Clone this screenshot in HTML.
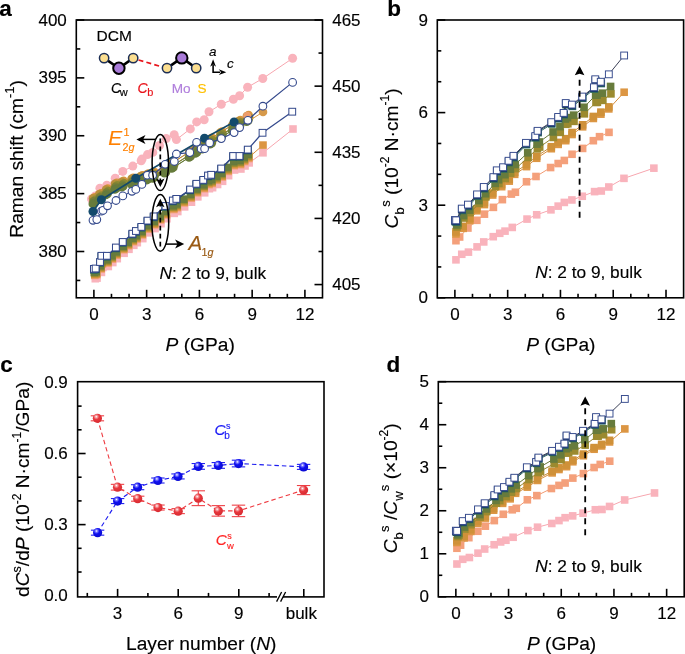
<!DOCTYPE html>
<html><head><meta charset="utf-8"><style>
html,body{margin:0;padding:0;background:#fff;}
svg{display:block;will-change:transform;font-family:"Liberation Sans", sans-serif;}
text{stroke-width:0.15px;}
</style></head><body>
<svg width="685" height="654" viewBox="0 0 685 654">
<text x="-0.80" y="16.20" font-size="22.5" text-anchor="start" font-weight="bold" stroke="#000">a</text>
<text x="387.20" y="16.30" font-size="22.5" text-anchor="start" font-weight="bold" stroke="#000">b</text>
<text x="0.20" y="371.60" font-size="22.5" text-anchor="start" font-weight="bold" stroke="#000">c</text>
<text x="386.60" y="371.70" font-size="22.5" text-anchor="start" font-weight="bold" stroke="#000">d</text>
<rect x="76.30" y="20.00" width="246.20" height="277.80" fill="none" stroke="#000" stroke-width="1.6"/>
<line x1="93.89" y1="297.80" x2="93.89" y2="289.80" stroke="#000" stroke-width="1.6" />
<text x="93.89" y="320.17" font-size="17" text-anchor="middle"  stroke="#000">0</text>
<line x1="111.47" y1="297.80" x2="111.47" y2="293.80" stroke="#000" stroke-width="1.6" />
<line x1="129.06" y1="297.80" x2="129.06" y2="293.80" stroke="#000" stroke-width="1.6" />
<line x1="146.64" y1="297.80" x2="146.64" y2="289.80" stroke="#000" stroke-width="1.6" />
<text x="146.64" y="320.17" font-size="17" text-anchor="middle"  stroke="#000">3</text>
<line x1="164.23" y1="297.80" x2="164.23" y2="293.80" stroke="#000" stroke-width="1.6" />
<line x1="181.81" y1="297.80" x2="181.81" y2="293.80" stroke="#000" stroke-width="1.6" />
<line x1="199.40" y1="297.80" x2="199.40" y2="289.80" stroke="#000" stroke-width="1.6" />
<text x="199.40" y="320.17" font-size="17" text-anchor="middle"  stroke="#000">6</text>
<line x1="216.99" y1="297.80" x2="216.99" y2="293.80" stroke="#000" stroke-width="1.6" />
<line x1="234.57" y1="297.80" x2="234.57" y2="293.80" stroke="#000" stroke-width="1.6" />
<line x1="252.16" y1="297.80" x2="252.16" y2="289.80" stroke="#000" stroke-width="1.6" />
<text x="252.16" y="320.17" font-size="17" text-anchor="middle"  stroke="#000">9</text>
<line x1="269.74" y1="297.80" x2="269.74" y2="293.80" stroke="#000" stroke-width="1.6" />
<line x1="287.33" y1="297.80" x2="287.33" y2="293.80" stroke="#000" stroke-width="1.6" />
<line x1="304.91" y1="297.80" x2="304.91" y2="289.80" stroke="#000" stroke-width="1.6" />
<text x="304.91" y="320.17" font-size="17" text-anchor="middle"  stroke="#000">12</text>
<line x1="76.30" y1="280.44" x2="80.30" y2="280.44" stroke="#000" stroke-width="1.6" />
<line x1="76.30" y1="251.50" x2="84.30" y2="251.50" stroke="#000" stroke-width="1.6" />
<text x="66.80" y="257.11" font-size="17" text-anchor="end"  stroke="#000">380</text>
<line x1="76.30" y1="222.56" x2="80.30" y2="222.56" stroke="#000" stroke-width="1.6" />
<line x1="76.30" y1="193.62" x2="84.30" y2="193.62" stroke="#000" stroke-width="1.6" />
<text x="66.80" y="199.24" font-size="17" text-anchor="end"  stroke="#000">385</text>
<line x1="76.30" y1="164.69" x2="80.30" y2="164.69" stroke="#000" stroke-width="1.6" />
<line x1="76.30" y1="135.75" x2="84.30" y2="135.75" stroke="#000" stroke-width="1.6" />
<text x="66.80" y="141.36" font-size="17" text-anchor="end"  stroke="#000">390</text>
<line x1="76.30" y1="106.81" x2="80.30" y2="106.81" stroke="#000" stroke-width="1.6" />
<line x1="76.30" y1="77.88" x2="84.30" y2="77.88" stroke="#000" stroke-width="1.6" />
<text x="66.80" y="83.48" font-size="17" text-anchor="end"  stroke="#000">395</text>
<line x1="76.30" y1="48.94" x2="80.30" y2="48.94" stroke="#000" stroke-width="1.6" />
<line x1="76.30" y1="20.00" x2="84.30" y2="20.00" stroke="#000" stroke-width="1.6" />
<text x="66.80" y="25.61" font-size="17" text-anchor="end"  stroke="#000">400</text>
<line x1="322.50" y1="284.57" x2="314.50" y2="284.57" stroke="#000" stroke-width="1.6" />
<text x="332.20" y="290.18" font-size="17" text-anchor="start"  stroke="#000">405</text>
<line x1="322.50" y1="251.50" x2="318.50" y2="251.50" stroke="#000" stroke-width="1.6" />
<line x1="322.50" y1="218.43" x2="314.50" y2="218.43" stroke="#000" stroke-width="1.6" />
<text x="332.20" y="224.04" font-size="17" text-anchor="start"  stroke="#000">420</text>
<line x1="322.50" y1="185.36" x2="318.50" y2="185.36" stroke="#000" stroke-width="1.6" />
<line x1="322.50" y1="152.29" x2="314.50" y2="152.29" stroke="#000" stroke-width="1.6" />
<text x="332.20" y="157.90" font-size="17" text-anchor="start"  stroke="#000">435</text>
<line x1="322.50" y1="119.21" x2="318.50" y2="119.21" stroke="#000" stroke-width="1.6" />
<line x1="322.50" y1="86.14" x2="314.50" y2="86.14" stroke="#000" stroke-width="1.6" />
<text x="332.20" y="91.75" font-size="17" text-anchor="start"  stroke="#000">450</text>
<line x1="322.50" y1="53.07" x2="318.50" y2="53.07" stroke="#000" stroke-width="1.6" />
<line x1="322.50" y1="20.00" x2="314.50" y2="20.00" stroke="#000" stroke-width="1.6" />
<text x="332.20" y="25.61" font-size="17" text-anchor="start"  stroke="#000">465</text>
<text transform="translate(22.7,158.9) rotate(-90)" font-size="19.2" text-anchor="middle" stroke="#000">Raman shift (cm<tspan font-size="13" dy="-8.5">-1</tspan><tspan dy="8.5">)</tspan></text>
<text x="200.2" y="350.7" font-size="19.2" text-anchor="middle" stroke="#000"><tspan font-style="italic">P</tspan> (GPa)</text>
<rect x="437.30" y="20.00" width="246.30" height="277.80" fill="none" stroke="#000" stroke-width="1.6"/>
<line x1="454.89" y1="297.80" x2="454.89" y2="289.80" stroke="#000" stroke-width="1.6" />
<text x="454.89" y="320.17" font-size="17" text-anchor="middle"  stroke="#000">0</text>
<line x1="472.49" y1="297.80" x2="472.49" y2="293.80" stroke="#000" stroke-width="1.6" />
<line x1="490.08" y1="297.80" x2="490.08" y2="293.80" stroke="#000" stroke-width="1.6" />
<line x1="507.67" y1="297.80" x2="507.67" y2="289.80" stroke="#000" stroke-width="1.6" />
<text x="507.67" y="320.17" font-size="17" text-anchor="middle"  stroke="#000">3</text>
<line x1="525.26" y1="297.80" x2="525.26" y2="293.80" stroke="#000" stroke-width="1.6" />
<line x1="542.86" y1="297.80" x2="542.86" y2="293.80" stroke="#000" stroke-width="1.6" />
<line x1="560.45" y1="297.80" x2="560.45" y2="289.80" stroke="#000" stroke-width="1.6" />
<text x="560.45" y="320.17" font-size="17" text-anchor="middle"  stroke="#000">6</text>
<line x1="578.04" y1="297.80" x2="578.04" y2="293.80" stroke="#000" stroke-width="1.6" />
<line x1="595.64" y1="297.80" x2="595.64" y2="293.80" stroke="#000" stroke-width="1.6" />
<line x1="613.23" y1="297.80" x2="613.23" y2="289.80" stroke="#000" stroke-width="1.6" />
<text x="613.23" y="320.17" font-size="17" text-anchor="middle"  stroke="#000">9</text>
<line x1="630.82" y1="297.80" x2="630.82" y2="293.80" stroke="#000" stroke-width="1.6" />
<line x1="648.41" y1="297.80" x2="648.41" y2="293.80" stroke="#000" stroke-width="1.6" />
<line x1="666.01" y1="297.80" x2="666.01" y2="289.80" stroke="#000" stroke-width="1.6" />
<text x="666.01" y="320.17" font-size="17" text-anchor="middle"  stroke="#000">12</text>
<line x1="437.30" y1="297.80" x2="445.30" y2="297.80" stroke="#000" stroke-width="1.6" />
<text x="428.00" y="303.41" font-size="17" text-anchor="end"  stroke="#000">0</text>
<line x1="437.30" y1="266.93" x2="441.30" y2="266.93" stroke="#000" stroke-width="1.6" />
<line x1="437.30" y1="236.07" x2="441.30" y2="236.07" stroke="#000" stroke-width="1.6" />
<line x1="437.30" y1="205.20" x2="445.30" y2="205.20" stroke="#000" stroke-width="1.6" />
<text x="428.00" y="210.81" font-size="17" text-anchor="end"  stroke="#000">3</text>
<line x1="437.30" y1="174.33" x2="441.30" y2="174.33" stroke="#000" stroke-width="1.6" />
<line x1="437.30" y1="143.47" x2="441.30" y2="143.47" stroke="#000" stroke-width="1.6" />
<line x1="437.30" y1="112.60" x2="445.30" y2="112.60" stroke="#000" stroke-width="1.6" />
<text x="428.00" y="118.21" font-size="17" text-anchor="end"  stroke="#000">6</text>
<line x1="437.30" y1="81.73" x2="441.30" y2="81.73" stroke="#000" stroke-width="1.6" />
<line x1="437.30" y1="50.87" x2="441.30" y2="50.87" stroke="#000" stroke-width="1.6" />
<line x1="437.30" y1="20.00" x2="445.30" y2="20.00" stroke="#000" stroke-width="1.6" />
<text x="428.00" y="25.61" font-size="17" text-anchor="end"  stroke="#000">9</text>
<text transform="translate(397.8,158.4) rotate(-90)" font-size="19.2" text-anchor="middle" stroke="#000"><tspan font-style="italic">C</tspan><tspan font-size="13" dy="6">b</tspan><tspan font-size="13" dy="-14" dx="0.5">s</tspan><tspan dy="8"> (10</tspan><tspan font-size="12" dy="-8.5">-2</tspan><tspan dy="8.5"> N·cm</tspan><tspan font-size="12" dy="-8.5">-1</tspan><tspan dy="8.5">)</tspan></text>
<text x="560.8" y="350.7" font-size="19.2" text-anchor="middle" stroke="#000"><tspan font-style="italic">P</tspan> (GPa)</text>
<rect x="77.60" y="381.70" width="246.40" height="215.20" fill="none" stroke="#000" stroke-width="1.6"/>
<text x="67.80" y="601.32" font-size="17" text-anchor="end"  stroke="#000">0.0</text>
<line x1="77.60" y1="572.01" x2="81.60" y2="572.01" stroke="#000" stroke-width="1.6" />
<line x1="77.60" y1="548.31" x2="81.60" y2="548.31" stroke="#000" stroke-width="1.6" />
<line x1="77.60" y1="524.61" x2="85.60" y2="524.61" stroke="#000" stroke-width="1.6" />
<text x="67.80" y="530.22" font-size="17" text-anchor="end"  stroke="#000">0.3</text>
<line x1="77.60" y1="500.91" x2="81.60" y2="500.91" stroke="#000" stroke-width="1.6" />
<line x1="77.60" y1="477.21" x2="81.60" y2="477.21" stroke="#000" stroke-width="1.6" />
<line x1="77.60" y1="453.51" x2="85.60" y2="453.51" stroke="#000" stroke-width="1.6" />
<text x="67.80" y="459.12" font-size="17" text-anchor="end"  stroke="#000">0.6</text>
<line x1="77.60" y1="429.81" x2="81.60" y2="429.81" stroke="#000" stroke-width="1.6" />
<line x1="77.60" y1="406.11" x2="81.60" y2="406.11" stroke="#000" stroke-width="1.6" />
<text x="67.80" y="388.02" font-size="17" text-anchor="end"  stroke="#000">0.9</text>
<line x1="87.30" y1="596.90" x2="87.30" y2="592.90" stroke="#000" stroke-width="1.6" />
<line x1="117.60" y1="596.90" x2="117.60" y2="588.90" stroke="#000" stroke-width="1.6" />
<text x="117.60" y="619.27" font-size="17" text-anchor="middle"  stroke="#000">3</text>
<line x1="147.90" y1="596.90" x2="147.90" y2="592.90" stroke="#000" stroke-width="1.6" />
<line x1="178.20" y1="596.90" x2="178.20" y2="588.90" stroke="#000" stroke-width="1.6" />
<text x="178.20" y="619.27" font-size="17" text-anchor="middle"  stroke="#000">6</text>
<line x1="208.50" y1="596.90" x2="208.50" y2="592.90" stroke="#000" stroke-width="1.6" />
<line x1="238.80" y1="596.90" x2="238.80" y2="588.90" stroke="#000" stroke-width="1.6" />
<text x="238.80" y="619.27" font-size="17" text-anchor="middle"  stroke="#000">9</text>
<line x1="269.10" y1="596.90" x2="269.10" y2="592.90" stroke="#000" stroke-width="1.6" />
<line x1="303.80" y1="596.90" x2="303.80" y2="588.90" stroke="#000" stroke-width="1.6" />
<text x="301.30" y="619.27" font-size="17" text-anchor="middle"  stroke="#000">bulk</text>
<rect x="277" y="593.9" width="6" height="6" fill="#fff"/>
<line x1="276.60" y1="601.60" x2="281.60" y2="592.00" stroke="#000" stroke-width="1.3" />
<line x1="280.60" y1="601.60" x2="285.60" y2="592.00" stroke="#000" stroke-width="1.3" />
<text transform="translate(29,489.3) rotate(-90)" font-size="19.2" text-anchor="middle" stroke="#000">d<tspan font-style="italic">C</tspan><tspan font-size="12.5" dy="-8">s</tspan><tspan dy="8">/d</tspan><tspan font-style="italic">P</tspan> (10<tspan font-size="12" dy="-8.5">-2</tspan><tspan dy="8.5"> N·cm</tspan><tspan font-size="12" dy="-8.5">-1</tspan><tspan dy="8.5">/GPa)</tspan></text>
<text x="201.2" y="650.2" font-size="19.2" text-anchor="middle" stroke="#000">Layer number (<tspan font-style="italic">N</tspan>)</text>
<rect x="438.30" y="381.70" width="245.90" height="215.10" fill="none" stroke="#000" stroke-width="1.6"/>
<line x1="455.86" y1="596.80" x2="455.86" y2="588.80" stroke="#000" stroke-width="1.6" />
<text x="455.86" y="619.17" font-size="17" text-anchor="middle"  stroke="#000">0</text>
<line x1="473.43" y1="596.80" x2="473.43" y2="592.80" stroke="#000" stroke-width="1.6" />
<line x1="490.99" y1="596.80" x2="490.99" y2="592.80" stroke="#000" stroke-width="1.6" />
<line x1="508.56" y1="596.80" x2="508.56" y2="588.80" stroke="#000" stroke-width="1.6" />
<text x="508.56" y="619.17" font-size="17" text-anchor="middle"  stroke="#000">3</text>
<line x1="526.12" y1="596.80" x2="526.12" y2="592.80" stroke="#000" stroke-width="1.6" />
<line x1="543.69" y1="596.80" x2="543.69" y2="592.80" stroke="#000" stroke-width="1.6" />
<line x1="561.25" y1="596.80" x2="561.25" y2="588.80" stroke="#000" stroke-width="1.6" />
<text x="561.25" y="619.17" font-size="17" text-anchor="middle"  stroke="#000">6</text>
<line x1="578.81" y1="596.80" x2="578.81" y2="592.80" stroke="#000" stroke-width="1.6" />
<line x1="596.38" y1="596.80" x2="596.38" y2="592.80" stroke="#000" stroke-width="1.6" />
<line x1="613.94" y1="596.80" x2="613.94" y2="588.80" stroke="#000" stroke-width="1.6" />
<text x="613.94" y="619.17" font-size="17" text-anchor="middle"  stroke="#000">9</text>
<line x1="631.51" y1="596.80" x2="631.51" y2="592.80" stroke="#000" stroke-width="1.6" />
<line x1="649.07" y1="596.80" x2="649.07" y2="592.80" stroke="#000" stroke-width="1.6" />
<line x1="666.64" y1="596.80" x2="666.64" y2="588.80" stroke="#000" stroke-width="1.6" />
<text x="666.64" y="619.17" font-size="17" text-anchor="middle"  stroke="#000">12</text>
<line x1="438.30" y1="596.80" x2="446.30" y2="596.80" stroke="#000" stroke-width="1.6" />
<text x="429.00" y="602.41" font-size="17" text-anchor="end"  stroke="#000">0</text>
<line x1="438.30" y1="575.29" x2="442.30" y2="575.29" stroke="#000" stroke-width="1.6" />
<line x1="438.30" y1="553.78" x2="446.30" y2="553.78" stroke="#000" stroke-width="1.6" />
<text x="429.00" y="559.39" font-size="17" text-anchor="end"  stroke="#000">1</text>
<line x1="438.30" y1="532.27" x2="442.30" y2="532.27" stroke="#000" stroke-width="1.6" />
<line x1="438.30" y1="510.76" x2="446.30" y2="510.76" stroke="#000" stroke-width="1.6" />
<text x="429.00" y="516.37" font-size="17" text-anchor="end"  stroke="#000">2</text>
<line x1="438.30" y1="489.25" x2="442.30" y2="489.25" stroke="#000" stroke-width="1.6" />
<line x1="438.30" y1="467.74" x2="446.30" y2="467.74" stroke="#000" stroke-width="1.6" />
<text x="429.00" y="473.35" font-size="17" text-anchor="end"  stroke="#000">3</text>
<line x1="438.30" y1="446.23" x2="442.30" y2="446.23" stroke="#000" stroke-width="1.6" />
<line x1="438.30" y1="424.72" x2="446.30" y2="424.72" stroke="#000" stroke-width="1.6" />
<text x="429.00" y="430.33" font-size="17" text-anchor="end"  stroke="#000">4</text>
<line x1="438.30" y1="403.21" x2="442.30" y2="403.21" stroke="#000" stroke-width="1.6" />
<line x1="438.30" y1="381.70" x2="446.30" y2="381.70" stroke="#000" stroke-width="1.6" />
<text x="429.00" y="387.31" font-size="17" text-anchor="end"  stroke="#000">5</text>
<text transform="translate(396.8,488.3) rotate(-90)" font-size="19.2" text-anchor="middle" stroke="#000"><tspan font-style="italic">C</tspan><tspan font-size="13" dy="6">b</tspan><tspan font-size="13" dy="-14" dx="0.3">s</tspan><tspan dy="8"> /</tspan><tspan font-style="italic">C</tspan><tspan font-size="13" dy="6">w</tspan><tspan font-size="13" dy="-14" dx="0.3">s</tspan><tspan dy="8"> (×10</tspan><tspan font-size="12" dy="-8.5">-2</tspan><tspan dy="8.5">)</tspan></text>
<text x="561.6" y="649.5" font-size="19.2" text-anchor="middle" stroke="#000"><tspan font-style="italic">P</tspan> (GPa)</text>
<text x="159.5" y="278.6" font-size="17.3" stroke="#000"><tspan font-style="italic">N</tspan>: 2 to 9, bulk</text>
<text x="535.2" y="277.8" font-size="17.3" stroke="#000"><tspan font-style="italic">N</tspan>: 2 to 9, bulk</text>
<text x="535.2" y="571.7" font-size="17.3" stroke="#000"><tspan font-style="italic">N</tspan>: 2 to 9, bulk</text>
<polyline points="455.95,259.83 461.75,254.28 468.44,252.12 477.06,246.87 483.75,241.93 493.25,236.68 499.75,233.29 505.03,231.13 512.25,227.42 527.02,219.09 536.70,214.77 550.95,209.83 558.16,206.13 564.32,202.42 571.89,199.95 582.27,196.25 594.58,191.62 601.27,191.00 608.83,186.99 623.96,178.35 653.87,168.16" fill="none" stroke="#F7A6AF" stroke-width="1.0"/>
<rect x="452.15" y="256.03" width="7.60" height="7.60" fill="#F9B3BC"/>
<rect x="457.95" y="250.48" width="7.60" height="7.60" fill="#F9B3BC"/>
<rect x="464.64" y="248.32" width="7.60" height="7.60" fill="#F9B3BC"/>
<rect x="473.26" y="243.07" width="7.60" height="7.60" fill="#F9B3BC"/>
<rect x="479.95" y="238.13" width="7.60" height="7.60" fill="#F9B3BC"/>
<rect x="489.45" y="232.88" width="7.60" height="7.60" fill="#F9B3BC"/>
<rect x="495.95" y="229.49" width="7.60" height="7.60" fill="#F9B3BC"/>
<rect x="501.23" y="227.33" width="7.60" height="7.60" fill="#F9B3BC"/>
<rect x="508.45" y="223.62" width="7.60" height="7.60" fill="#F9B3BC"/>
<rect x="523.22" y="215.29" width="7.60" height="7.60" fill="#F9B3BC"/>
<rect x="532.90" y="210.97" width="7.60" height="7.60" fill="#F9B3BC"/>
<rect x="547.15" y="206.03" width="7.60" height="7.60" fill="#F9B3BC"/>
<rect x="554.36" y="202.33" width="7.60" height="7.60" fill="#F9B3BC"/>
<rect x="560.52" y="198.62" width="7.60" height="7.60" fill="#F9B3BC"/>
<rect x="568.09" y="196.15" width="7.60" height="7.60" fill="#F9B3BC"/>
<rect x="578.47" y="192.45" width="7.60" height="7.60" fill="#F9B3BC"/>
<rect x="590.78" y="187.82" width="7.60" height="7.60" fill="#F9B3BC"/>
<rect x="597.47" y="187.20" width="7.60" height="7.60" fill="#F9B3BC"/>
<rect x="605.03" y="183.19" width="7.60" height="7.60" fill="#F9B3BC"/>
<rect x="620.16" y="174.55" width="7.60" height="7.60" fill="#F9B3BC"/>
<rect x="650.07" y="164.36" width="7.60" height="7.60" fill="#F9B3BC"/>
<polyline points="455.95,240.70 459.64,236.99 467.91,228.04 476.88,220.32 484.45,214.15 493.42,207.36 502.39,199.64 511.37,194.09 515.41,192.24 526.50,181.74 536.00,176.49 550.60,167.54 558.16,163.53 564.32,160.44 572.06,154.27 582.62,148.41 593.35,140.69 599.51,136.68 609.01,132.35" fill="none" stroke="#F29A72" stroke-width="1.0"/>
<rect x="452.15" y="236.90" width="7.60" height="7.60" fill="#F4A07B"/>
<rect x="455.84" y="233.19" width="7.60" height="7.60" fill="#F4A07B"/>
<rect x="464.11" y="224.24" width="7.60" height="7.60" fill="#F4A07B"/>
<rect x="473.08" y="216.52" width="7.60" height="7.60" fill="#F4A07B"/>
<rect x="480.65" y="210.35" width="7.60" height="7.60" fill="#F4A07B"/>
<rect x="489.62" y="203.56" width="7.60" height="7.60" fill="#F4A07B"/>
<rect x="498.59" y="195.84" width="7.60" height="7.60" fill="#F4A07B"/>
<rect x="507.57" y="190.29" width="7.60" height="7.60" fill="#F4A07B"/>
<rect x="511.61" y="188.44" width="7.60" height="7.60" fill="#F4A07B"/>
<rect x="522.70" y="177.94" width="7.60" height="7.60" fill="#F4A07B"/>
<rect x="532.20" y="172.69" width="7.60" height="7.60" fill="#F4A07B"/>
<rect x="546.80" y="163.74" width="7.60" height="7.60" fill="#F4A07B"/>
<rect x="554.36" y="159.73" width="7.60" height="7.60" fill="#F4A07B"/>
<rect x="560.52" y="156.64" width="7.60" height="7.60" fill="#F4A07B"/>
<rect x="568.26" y="150.47" width="7.60" height="7.60" fill="#F4A07B"/>
<rect x="578.82" y="144.61" width="7.60" height="7.60" fill="#F4A07B"/>
<rect x="589.55" y="136.89" width="7.60" height="7.60" fill="#F4A07B"/>
<rect x="595.71" y="132.88" width="7.60" height="7.60" fill="#F4A07B"/>
<rect x="605.21" y="128.55" width="7.60" height="7.60" fill="#F4A07B"/>
<polyline points="455.95,233.91 463.16,228.35 469.85,220.63 476.88,210.76 484.45,204.58 492.72,195.01 501.69,186.68 509.25,181.12 514.71,174.33 526.50,166.62 536.70,158.28 551.30,148.71 558.16,144.39 565.73,140.69 572.06,134.52 582.62,126.80 593.35,118.46 600.91,114.14 608.83,108.90 624.14,92.23" fill="none" stroke="#D58D3C" stroke-width="1.0"/>
<rect x="452.15" y="230.11" width="7.60" height="7.60" fill="#DC9643"/>
<rect x="459.36" y="224.55" width="7.60" height="7.60" fill="#DC9643"/>
<rect x="466.05" y="216.83" width="7.60" height="7.60" fill="#DC9643"/>
<rect x="473.08" y="206.96" width="7.60" height="7.60" fill="#DC9643"/>
<rect x="480.65" y="200.78" width="7.60" height="7.60" fill="#DC9643"/>
<rect x="488.92" y="191.21" width="7.60" height="7.60" fill="#DC9643"/>
<rect x="497.89" y="182.88" width="7.60" height="7.60" fill="#DC9643"/>
<rect x="505.45" y="177.32" width="7.60" height="7.60" fill="#DC9643"/>
<rect x="510.91" y="170.53" width="7.60" height="7.60" fill="#DC9643"/>
<rect x="522.70" y="162.82" width="7.60" height="7.60" fill="#DC9643"/>
<rect x="532.90" y="154.48" width="7.60" height="7.60" fill="#DC9643"/>
<rect x="547.50" y="144.91" width="7.60" height="7.60" fill="#DC9643"/>
<rect x="554.36" y="140.59" width="7.60" height="7.60" fill="#DC9643"/>
<rect x="561.93" y="136.89" width="7.60" height="7.60" fill="#DC9643"/>
<rect x="568.26" y="130.72" width="7.60" height="7.60" fill="#DC9643"/>
<rect x="578.82" y="123.00" width="7.60" height="7.60" fill="#DC9643"/>
<rect x="589.55" y="114.66" width="7.60" height="7.60" fill="#DC9643"/>
<rect x="597.11" y="110.34" width="7.60" height="7.60" fill="#DC9643"/>
<rect x="605.03" y="105.10" width="7.60" height="7.60" fill="#DC9643"/>
<rect x="620.34" y="88.43" width="7.60" height="7.60" fill="#DC9643"/>
<polyline points="455.95,231.90 463.16,226.35 469.85,218.63 476.88,208.75 484.45,202.58 492.72,193.01 501.69,184.68 509.25,179.12 514.71,172.33 526.50,164.61 536.70,156.28 551.30,146.71 558.16,142.39 565.73,138.69 572.06,132.51 582.62,124.80 593.35,116.46 600.91,112.14 608.83,106.89" fill="none" stroke="#C88A34" stroke-width="1.0"/>
<rect x="452.15" y="228.10" width="7.60" height="7.60" fill="#CF9139"/>
<rect x="459.36" y="222.55" width="7.60" height="7.60" fill="#CF9139"/>
<rect x="466.05" y="214.83" width="7.60" height="7.60" fill="#CF9139"/>
<rect x="473.08" y="204.95" width="7.60" height="7.60" fill="#CF9139"/>
<rect x="480.65" y="198.78" width="7.60" height="7.60" fill="#CF9139"/>
<rect x="488.92" y="189.21" width="7.60" height="7.60" fill="#CF9139"/>
<rect x="497.89" y="180.88" width="7.60" height="7.60" fill="#CF9139"/>
<rect x="505.45" y="175.32" width="7.60" height="7.60" fill="#CF9139"/>
<rect x="510.91" y="168.53" width="7.60" height="7.60" fill="#CF9139"/>
<rect x="522.70" y="160.81" width="7.60" height="7.60" fill="#CF9139"/>
<rect x="532.90" y="152.48" width="7.60" height="7.60" fill="#CF9139"/>
<rect x="547.50" y="142.91" width="7.60" height="7.60" fill="#CF9139"/>
<rect x="554.36" y="138.59" width="7.60" height="7.60" fill="#CF9139"/>
<rect x="561.93" y="134.89" width="7.60" height="7.60" fill="#CF9139"/>
<rect x="568.26" y="128.71" width="7.60" height="7.60" fill="#CF9139"/>
<rect x="578.82" y="121.00" width="7.60" height="7.60" fill="#CF9139"/>
<rect x="589.55" y="112.66" width="7.60" height="7.60" fill="#CF9139"/>
<rect x="597.11" y="108.34" width="7.60" height="7.60" fill="#CF9139"/>
<rect x="605.03" y="103.09" width="7.60" height="7.60" fill="#CF9139"/>
<polyline points="457.00,226.87 458.24,225.01 463.87,218.01 470.02,212.67 479.17,203.43 485.86,196.84 495.53,186.62 498.88,183.42 505.21,178.45 510.66,173.14 515.59,168.61 528.08,157.44 537.40,148.77 539.69,147.03 553.41,137.44 560.27,132.37 565.73,124.27 567.84,123.79 574.00,121.35 584.38,113.82 595.99,102.41 597.39,102.29 602.85,100.37 610.94,93.86" fill="none" stroke="#93842F" stroke-width="1.0"/>
<rect x="453.20" y="223.07" width="7.60" height="7.60" fill="#9B8A2F"/>
<rect x="454.44" y="221.21" width="7.60" height="7.60" fill="#9B8A2F"/>
<rect x="460.07" y="214.21" width="7.60" height="7.60" fill="#9B8A2F"/>
<rect x="466.22" y="208.87" width="7.60" height="7.60" fill="#9B8A2F"/>
<rect x="475.37" y="199.63" width="7.60" height="7.60" fill="#9B8A2F"/>
<rect x="482.06" y="193.04" width="7.60" height="7.60" fill="#9B8A2F"/>
<rect x="491.73" y="182.82" width="7.60" height="7.60" fill="#9B8A2F"/>
<rect x="495.07" y="179.62" width="7.60" height="7.60" fill="#9B8A2F"/>
<rect x="501.41" y="174.65" width="7.60" height="7.60" fill="#9B8A2F"/>
<rect x="506.86" y="169.34" width="7.60" height="7.60" fill="#9B8A2F"/>
<rect x="511.79" y="164.81" width="7.60" height="7.60" fill="#9B8A2F"/>
<rect x="524.28" y="153.64" width="7.60" height="7.60" fill="#9B8A2F"/>
<rect x="533.60" y="144.97" width="7.60" height="7.60" fill="#9B8A2F"/>
<rect x="535.89" y="143.23" width="7.60" height="7.60" fill="#9B8A2F"/>
<rect x="549.61" y="133.64" width="7.60" height="7.60" fill="#9B8A2F"/>
<rect x="556.47" y="128.57" width="7.60" height="7.60" fill="#9B8A2F"/>
<rect x="561.93" y="120.47" width="7.60" height="7.60" fill="#9B8A2F"/>
<rect x="564.04" y="119.99" width="7.60" height="7.60" fill="#9B8A2F"/>
<rect x="570.20" y="117.55" width="7.60" height="7.60" fill="#9B8A2F"/>
<rect x="580.58" y="110.02" width="7.60" height="7.60" fill="#9B8A2F"/>
<rect x="592.19" y="98.61" width="7.60" height="7.60" fill="#9B8A2F"/>
<rect x="593.60" y="98.49" width="7.60" height="7.60" fill="#9B8A2F"/>
<rect x="599.05" y="96.57" width="7.60" height="7.60" fill="#9B8A2F"/>
<rect x="607.14" y="90.06" width="7.60" height="7.60" fill="#9B8A2F"/>
<polyline points="456.65,224.93 457.88,223.02 463.51,215.58 469.67,210.11 478.82,200.55 485.50,193.72 495.18,183.34 498.52,179.75 504.86,174.69 510.31,169.15 515.24,164.46 527.73,152.81 537.05,144.09 539.34,141.98 553.06,131.94 559.92,126.63 565.38,119.03 567.49,117.61 573.64,115.14 584.02,107.26 595.64,95.23 597.04,95.05 602.50,93.19 610.59,86.46" fill="none" stroke="#637538" stroke-width="1.0"/>
<rect x="452.85" y="221.13" width="7.60" height="7.60" fill="#677B3C"/>
<rect x="454.08" y="219.22" width="7.60" height="7.60" fill="#677B3C"/>
<rect x="459.71" y="211.78" width="7.60" height="7.60" fill="#677B3C"/>
<rect x="465.87" y="206.31" width="7.60" height="7.60" fill="#677B3C"/>
<rect x="475.02" y="196.75" width="7.60" height="7.60" fill="#677B3C"/>
<rect x="481.70" y="189.92" width="7.60" height="7.60" fill="#677B3C"/>
<rect x="491.38" y="179.54" width="7.60" height="7.60" fill="#677B3C"/>
<rect x="494.72" y="175.95" width="7.60" height="7.60" fill="#677B3C"/>
<rect x="501.06" y="170.89" width="7.60" height="7.60" fill="#677B3C"/>
<rect x="506.51" y="165.35" width="7.60" height="7.60" fill="#677B3C"/>
<rect x="511.44" y="160.66" width="7.60" height="7.60" fill="#677B3C"/>
<rect x="523.93" y="149.01" width="7.60" height="7.60" fill="#677B3C"/>
<rect x="533.25" y="140.29" width="7.60" height="7.60" fill="#677B3C"/>
<rect x="535.54" y="138.18" width="7.60" height="7.60" fill="#677B3C"/>
<rect x="549.26" y="128.14" width="7.60" height="7.60" fill="#677B3C"/>
<rect x="556.12" y="122.83" width="7.60" height="7.60" fill="#677B3C"/>
<rect x="561.58" y="115.23" width="7.60" height="7.60" fill="#677B3C"/>
<rect x="563.69" y="113.81" width="7.60" height="7.60" fill="#677B3C"/>
<rect x="569.84" y="111.34" width="7.60" height="7.60" fill="#677B3C"/>
<rect x="580.22" y="103.46" width="7.60" height="7.60" fill="#677B3C"/>
<rect x="591.84" y="91.43" width="7.60" height="7.60" fill="#677B3C"/>
<rect x="593.24" y="91.25" width="7.60" height="7.60" fill="#677B3C"/>
<rect x="598.70" y="89.39" width="7.60" height="7.60" fill="#677B3C"/>
<rect x="606.79" y="82.66" width="7.60" height="7.60" fill="#677B3C"/>
<polyline points="455.42,221.82 456.65,222.13 462.28,210.40 468.44,206.38 477.59,196.20 484.27,188.79 493.95,178.91 497.29,172.12 503.63,169.04 509.08,162.55 514.00,157.61 526.50,144.65 535.82,137.86 538.11,132.61 551.83,123.97 558.69,118.72 564.14,114.71 566.26,104.83 572.41,106.38 582.79,98.35 594.40,89.09 595.81,81.07 601.27,83.53" fill="none" stroke="#2A6259" stroke-width="1.0"/>
<rect x="451.62" y="218.02" width="7.60" height="7.60" fill="#2D6A5E"/>
<rect x="452.85" y="218.33" width="7.60" height="7.60" fill="#2D6A5E"/>
<rect x="458.48" y="206.60" width="7.60" height="7.60" fill="#2D6A5E"/>
<rect x="464.64" y="202.58" width="7.60" height="7.60" fill="#2D6A5E"/>
<rect x="473.79" y="192.40" width="7.60" height="7.60" fill="#2D6A5E"/>
<rect x="480.47" y="184.99" width="7.60" height="7.60" fill="#2D6A5E"/>
<rect x="490.15" y="175.11" width="7.60" height="7.60" fill="#2D6A5E"/>
<rect x="493.49" y="168.32" width="7.60" height="7.60" fill="#2D6A5E"/>
<rect x="499.83" y="165.24" width="7.60" height="7.60" fill="#2D6A5E"/>
<rect x="505.28" y="158.75" width="7.60" height="7.60" fill="#2D6A5E"/>
<rect x="510.20" y="153.81" width="7.60" height="7.60" fill="#2D6A5E"/>
<rect x="522.70" y="140.85" width="7.60" height="7.60" fill="#2D6A5E"/>
<rect x="532.02" y="134.06" width="7.60" height="7.60" fill="#2D6A5E"/>
<rect x="534.31" y="128.81" width="7.60" height="7.60" fill="#2D6A5E"/>
<rect x="548.03" y="120.17" width="7.60" height="7.60" fill="#2D6A5E"/>
<rect x="554.89" y="114.92" width="7.60" height="7.60" fill="#2D6A5E"/>
<rect x="560.34" y="110.91" width="7.60" height="7.60" fill="#2D6A5E"/>
<rect x="562.46" y="101.03" width="7.60" height="7.60" fill="#2D6A5E"/>
<rect x="568.61" y="102.58" width="7.60" height="7.60" fill="#2D6A5E"/>
<rect x="578.99" y="94.55" width="7.60" height="7.60" fill="#2D6A5E"/>
<rect x="590.60" y="85.29" width="7.60" height="7.60" fill="#2D6A5E"/>
<rect x="592.01" y="77.27" width="7.60" height="7.60" fill="#2D6A5E"/>
<rect x="597.47" y="79.73" width="7.60" height="7.60" fill="#2D6A5E"/>
<polyline points="454.89,220.92 456.12,221.23 461.75,209.50 467.91,205.48 477.06,195.30 483.75,187.89 493.42,178.01 496.76,171.22 503.10,168.13 508.55,161.65 513.48,156.71 525.97,143.75 535.29,136.96 537.58,131.71 551.30,123.07 558.16,117.82 563.62,113.81 565.73,103.93 571.89,105.48 582.27,97.45 593.88,88.19 595.28,80.16 600.74,82.63" fill="none" stroke="#173A66" stroke-width="1.0"/>
<rect x="451.09" y="217.12" width="7.60" height="7.60" fill="#173A66"/>
<rect x="452.32" y="217.43" width="7.60" height="7.60" fill="#173A66"/>
<rect x="457.95" y="205.70" width="7.60" height="7.60" fill="#173A66"/>
<rect x="464.11" y="201.68" width="7.60" height="7.60" fill="#173A66"/>
<rect x="473.26" y="191.50" width="7.60" height="7.60" fill="#173A66"/>
<rect x="479.95" y="184.09" width="7.60" height="7.60" fill="#173A66"/>
<rect x="489.62" y="174.21" width="7.60" height="7.60" fill="#173A66"/>
<rect x="492.96" y="167.42" width="7.60" height="7.60" fill="#173A66"/>
<rect x="499.30" y="164.33" width="7.60" height="7.60" fill="#173A66"/>
<rect x="504.75" y="157.85" width="7.60" height="7.60" fill="#173A66"/>
<rect x="509.68" y="152.91" width="7.60" height="7.60" fill="#173A66"/>
<rect x="522.17" y="139.95" width="7.60" height="7.60" fill="#173A66"/>
<rect x="531.49" y="133.16" width="7.60" height="7.60" fill="#173A66"/>
<rect x="533.78" y="127.91" width="7.60" height="7.60" fill="#173A66"/>
<rect x="547.50" y="119.27" width="7.60" height="7.60" fill="#173A66"/>
<rect x="554.36" y="114.02" width="7.60" height="7.60" fill="#173A66"/>
<rect x="559.82" y="110.01" width="7.60" height="7.60" fill="#173A66"/>
<rect x="561.93" y="100.13" width="7.60" height="7.60" fill="#173A66"/>
<rect x="568.09" y="101.68" width="7.60" height="7.60" fill="#173A66"/>
<rect x="578.47" y="93.65" width="7.60" height="7.60" fill="#173A66"/>
<rect x="590.08" y="84.39" width="7.60" height="7.60" fill="#173A66"/>
<rect x="591.48" y="76.36" width="7.60" height="7.60" fill="#173A66"/>
<rect x="596.94" y="78.83" width="7.60" height="7.60" fill="#173A66"/>
<polyline points="454.89,220.02 456.12,220.32 461.75,208.60 467.91,204.58 477.06,194.40 483.75,186.99 493.42,177.11 496.76,170.32 503.10,167.23 508.55,160.75 513.48,155.81 525.97,142.85 535.29,136.06 537.58,130.81 551.30,122.17 558.16,116.92 563.62,112.91 565.73,103.03 571.89,104.57 582.27,96.55 593.88,87.29 595.28,79.26 600.74,81.73 608.83,74.33 624.14,55.50" fill="none" stroke="#3A3F55" stroke-width="1.0"/>
<rect x="451.47" y="216.59" width="6.85" height="6.85" fill="#fff" stroke="#34498C" stroke-width="0.95"/>
<rect x="452.70" y="216.90" width="6.85" height="6.85" fill="#fff" stroke="#34498C" stroke-width="0.95"/>
<rect x="458.33" y="205.17" width="6.85" height="6.85" fill="#fff" stroke="#34498C" stroke-width="0.95"/>
<rect x="464.49" y="201.16" width="6.85" height="6.85" fill="#fff" stroke="#34498C" stroke-width="0.95"/>
<rect x="473.63" y="190.97" width="6.85" height="6.85" fill="#fff" stroke="#34498C" stroke-width="0.95"/>
<rect x="480.32" y="183.56" width="6.85" height="6.85" fill="#fff" stroke="#34498C" stroke-width="0.95"/>
<rect x="490.00" y="173.69" width="6.85" height="6.85" fill="#fff" stroke="#34498C" stroke-width="0.95"/>
<rect x="493.34" y="166.90" width="6.85" height="6.85" fill="#fff" stroke="#34498C" stroke-width="0.95"/>
<rect x="499.67" y="163.81" width="6.85" height="6.85" fill="#fff" stroke="#34498C" stroke-width="0.95"/>
<rect x="505.13" y="157.33" width="6.85" height="6.85" fill="#fff" stroke="#34498C" stroke-width="0.95"/>
<rect x="510.05" y="152.39" width="6.85" height="6.85" fill="#fff" stroke="#34498C" stroke-width="0.95"/>
<rect x="522.54" y="139.42" width="6.85" height="6.85" fill="#fff" stroke="#34498C" stroke-width="0.95"/>
<rect x="531.87" y="132.63" width="6.85" height="6.85" fill="#fff" stroke="#34498C" stroke-width="0.95"/>
<rect x="534.15" y="127.39" width="6.85" height="6.85" fill="#fff" stroke="#34498C" stroke-width="0.95"/>
<rect x="547.88" y="118.74" width="6.85" height="6.85" fill="#fff" stroke="#34498C" stroke-width="0.95"/>
<rect x="554.74" y="113.50" width="6.85" height="6.85" fill="#fff" stroke="#34498C" stroke-width="0.95"/>
<rect x="560.19" y="109.48" width="6.85" height="6.85" fill="#fff" stroke="#34498C" stroke-width="0.95"/>
<rect x="562.30" y="99.61" width="6.85" height="6.85" fill="#fff" stroke="#34498C" stroke-width="0.95"/>
<rect x="568.46" y="101.15" width="6.85" height="6.85" fill="#fff" stroke="#34498C" stroke-width="0.95"/>
<rect x="578.84" y="93.12" width="6.85" height="6.85" fill="#fff" stroke="#34498C" stroke-width="0.95"/>
<rect x="590.45" y="83.86" width="6.85" height="6.85" fill="#fff" stroke="#34498C" stroke-width="0.95"/>
<rect x="591.86" y="75.84" width="6.85" height="6.85" fill="#fff" stroke="#34498C" stroke-width="0.95"/>
<rect x="597.31" y="78.31" width="6.85" height="6.85" fill="#fff" stroke="#34498C" stroke-width="0.95"/>
<rect x="605.41" y="70.90" width="6.85" height="6.85" fill="#fff" stroke="#34498C" stroke-width="0.95"/>
<rect x="620.71" y="52.07" width="6.85" height="6.85" fill="#fff" stroke="#34498C" stroke-width="0.95"/>
<polyline points="456.92,564.01 462.71,559.29 469.39,557.52 478.00,553.15 484.67,549.03 494.15,544.73 500.65,541.97 505.92,540.25 513.12,537.27 527.88,530.58 537.54,527.20 551.77,523.46 558.97,520.58 565.11,517.69 572.67,515.88 583.03,513.15 595.32,509.75 602.00,509.47 609.55,506.45 624.66,499.98 654.52,492.95" fill="none" stroke="#F7A6AF" stroke-width="1.0"/>
<rect x="453.12" y="560.21" width="7.60" height="7.60" fill="#F9B3BC"/>
<rect x="458.91" y="555.49" width="7.60" height="7.60" fill="#F9B3BC"/>
<rect x="465.59" y="553.72" width="7.60" height="7.60" fill="#F9B3BC"/>
<rect x="474.20" y="549.35" width="7.60" height="7.60" fill="#F9B3BC"/>
<rect x="480.87" y="545.23" width="7.60" height="7.60" fill="#F9B3BC"/>
<rect x="490.35" y="540.93" width="7.60" height="7.60" fill="#F9B3BC"/>
<rect x="496.85" y="538.17" width="7.60" height="7.60" fill="#F9B3BC"/>
<rect x="502.12" y="536.45" width="7.60" height="7.60" fill="#F9B3BC"/>
<rect x="509.32" y="533.47" width="7.60" height="7.60" fill="#F9B3BC"/>
<rect x="524.08" y="526.78" width="7.60" height="7.60" fill="#F9B3BC"/>
<rect x="533.74" y="523.40" width="7.60" height="7.60" fill="#F9B3BC"/>
<rect x="547.97" y="519.66" width="7.60" height="7.60" fill="#F9B3BC"/>
<rect x="555.17" y="516.78" width="7.60" height="7.60" fill="#F9B3BC"/>
<rect x="561.31" y="513.89" width="7.60" height="7.60" fill="#F9B3BC"/>
<rect x="568.87" y="512.08" width="7.60" height="7.60" fill="#F9B3BC"/>
<rect x="579.23" y="509.35" width="7.60" height="7.60" fill="#F9B3BC"/>
<rect x="591.52" y="505.95" width="7.60" height="7.60" fill="#F9B3BC"/>
<rect x="598.20" y="505.67" width="7.60" height="7.60" fill="#F9B3BC"/>
<rect x="605.75" y="502.65" width="7.60" height="7.60" fill="#F9B3BC"/>
<rect x="620.86" y="496.18" width="7.60" height="7.60" fill="#F9B3BC"/>
<rect x="650.72" y="489.15" width="7.60" height="7.60" fill="#F9B3BC"/>
<polyline points="456.92,548.26 460.61,545.16 468.86,537.67 477.82,531.27 485.37,526.17 494.33,520.60 503.29,514.27 512.25,509.79 516.29,508.32 527.35,499.78 536.84,495.62 551.41,488.53 558.97,485.39 565.11,483.00 572.84,478.10 583.38,473.57 594.10,467.54 600.24,464.43 609.73,461.19" fill="none" stroke="#F29A72" stroke-width="1.0"/>
<rect x="453.12" y="544.46" width="7.60" height="7.60" fill="#F4A07B"/>
<rect x="456.81" y="541.36" width="7.60" height="7.60" fill="#F4A07B"/>
<rect x="465.06" y="533.87" width="7.60" height="7.60" fill="#F4A07B"/>
<rect x="474.02" y="527.47" width="7.60" height="7.60" fill="#F4A07B"/>
<rect x="481.57" y="522.37" width="7.60" height="7.60" fill="#F4A07B"/>
<rect x="490.53" y="516.80" width="7.60" height="7.60" fill="#F4A07B"/>
<rect x="499.49" y="510.47" width="7.60" height="7.60" fill="#F4A07B"/>
<rect x="508.45" y="505.99" width="7.60" height="7.60" fill="#F4A07B"/>
<rect x="512.49" y="504.52" width="7.60" height="7.60" fill="#F4A07B"/>
<rect x="523.55" y="495.98" width="7.60" height="7.60" fill="#F4A07B"/>
<rect x="533.04" y="491.82" width="7.60" height="7.60" fill="#F4A07B"/>
<rect x="547.61" y="484.73" width="7.60" height="7.60" fill="#F4A07B"/>
<rect x="555.17" y="481.59" width="7.60" height="7.60" fill="#F4A07B"/>
<rect x="561.31" y="479.20" width="7.60" height="7.60" fill="#F4A07B"/>
<rect x="569.04" y="474.30" width="7.60" height="7.60" fill="#F4A07B"/>
<rect x="579.58" y="469.77" width="7.60" height="7.60" fill="#F4A07B"/>
<rect x="590.30" y="463.74" width="7.60" height="7.60" fill="#F4A07B"/>
<rect x="596.44" y="460.63" width="7.60" height="7.60" fill="#F4A07B"/>
<rect x="605.93" y="457.39" width="7.60" height="7.60" fill="#F4A07B"/>
<polyline points="456.92,542.49 464.12,537.87 470.79,531.42 477.82,523.18 485.37,518.09 493.63,510.18 502.59,503.36 510.14,498.86 515.58,493.29 527.35,487.13 537.54,480.45 552.12,472.90 558.97,469.51 566.52,466.68 572.84,461.77 583.38,455.74 594.10,449.25 601.65,445.97 609.55,441.96 624.83,428.92" fill="none" stroke="#D58D3C" stroke-width="1.0"/>
<rect x="453.12" y="538.69" width="7.60" height="7.60" fill="#DC9643"/>
<rect x="460.32" y="534.07" width="7.60" height="7.60" fill="#DC9643"/>
<rect x="466.99" y="527.62" width="7.60" height="7.60" fill="#DC9643"/>
<rect x="474.02" y="519.38" width="7.60" height="7.60" fill="#DC9643"/>
<rect x="481.57" y="514.29" width="7.60" height="7.60" fill="#DC9643"/>
<rect x="489.83" y="506.38" width="7.60" height="7.60" fill="#DC9643"/>
<rect x="498.79" y="499.56" width="7.60" height="7.60" fill="#DC9643"/>
<rect x="506.34" y="495.06" width="7.60" height="7.60" fill="#DC9643"/>
<rect x="511.78" y="489.49" width="7.60" height="7.60" fill="#DC9643"/>
<rect x="523.55" y="483.33" width="7.60" height="7.60" fill="#DC9643"/>
<rect x="533.74" y="476.65" width="7.60" height="7.60" fill="#DC9643"/>
<rect x="548.32" y="469.10" width="7.60" height="7.60" fill="#DC9643"/>
<rect x="555.17" y="465.71" width="7.60" height="7.60" fill="#DC9643"/>
<rect x="562.72" y="462.88" width="7.60" height="7.60" fill="#DC9643"/>
<rect x="569.04" y="457.97" width="7.60" height="7.60" fill="#DC9643"/>
<rect x="579.58" y="451.94" width="7.60" height="7.60" fill="#DC9643"/>
<rect x="590.30" y="445.45" width="7.60" height="7.60" fill="#DC9643"/>
<rect x="597.85" y="442.17" width="7.60" height="7.60" fill="#DC9643"/>
<rect x="605.75" y="438.16" width="7.60" height="7.60" fill="#DC9643"/>
<rect x="621.03" y="425.12" width="7.60" height="7.60" fill="#DC9643"/>
<polyline points="456.92,540.79 464.12,536.17 470.79,529.73 477.82,521.48 485.37,516.40 493.63,508.50 502.59,501.67 510.14,497.18 515.58,491.62 527.35,485.46 537.54,478.78 552.12,471.23 558.97,467.85 566.52,465.02 572.84,460.11 583.38,454.09 594.10,447.60 601.65,444.33 609.55,440.32" fill="none" stroke="#C88A34" stroke-width="1.0"/>
<rect x="453.12" y="536.99" width="7.60" height="7.60" fill="#CF9139"/>
<rect x="460.32" y="532.37" width="7.60" height="7.60" fill="#CF9139"/>
<rect x="466.99" y="525.93" width="7.60" height="7.60" fill="#CF9139"/>
<rect x="474.02" y="517.68" width="7.60" height="7.60" fill="#CF9139"/>
<rect x="481.57" y="512.60" width="7.60" height="7.60" fill="#CF9139"/>
<rect x="489.83" y="504.70" width="7.60" height="7.60" fill="#CF9139"/>
<rect x="498.79" y="497.87" width="7.60" height="7.60" fill="#CF9139"/>
<rect x="506.34" y="493.38" width="7.60" height="7.60" fill="#CF9139"/>
<rect x="511.78" y="487.82" width="7.60" height="7.60" fill="#CF9139"/>
<rect x="523.55" y="481.66" width="7.60" height="7.60" fill="#CF9139"/>
<rect x="533.74" y="474.98" width="7.60" height="7.60" fill="#CF9139"/>
<rect x="548.32" y="467.43" width="7.60" height="7.60" fill="#CF9139"/>
<rect x="555.17" y="464.05" width="7.60" height="7.60" fill="#CF9139"/>
<rect x="562.72" y="461.22" width="7.60" height="7.60" fill="#CF9139"/>
<rect x="569.04" y="456.31" width="7.60" height="7.60" fill="#CF9139"/>
<rect x="579.58" y="450.29" width="7.60" height="7.60" fill="#CF9139"/>
<rect x="590.30" y="443.80" width="7.60" height="7.60" fill="#CF9139"/>
<rect x="597.85" y="440.53" width="7.60" height="7.60" fill="#CF9139"/>
<rect x="605.75" y="436.52" width="7.60" height="7.60" fill="#CF9139"/>
<polyline points="457.97,536.53 459.20,534.96 464.82,529.11 470.97,524.68 480.10,517.02 486.78,511.58 496.44,503.17 499.78,500.55 506.10,496.52 511.54,492.19 516.46,488.52 528.93,479.51 538.24,472.53 540.52,471.15 554.22,463.60 561.07,459.61 566.52,453.07 568.63,452.75 574.77,450.95 585.14,445.10 596.73,436.15 598.13,436.10 603.58,434.73 611.66,429.72" fill="none" stroke="#93842F" stroke-width="1.0"/>
<rect x="454.17" y="532.73" width="7.60" height="7.60" fill="#9B8A2F"/>
<rect x="455.40" y="531.16" width="7.60" height="7.60" fill="#9B8A2F"/>
<rect x="461.02" y="525.31" width="7.60" height="7.60" fill="#9B8A2F"/>
<rect x="467.17" y="520.88" width="7.60" height="7.60" fill="#9B8A2F"/>
<rect x="476.30" y="513.22" width="7.60" height="7.60" fill="#9B8A2F"/>
<rect x="482.98" y="507.78" width="7.60" height="7.60" fill="#9B8A2F"/>
<rect x="492.64" y="499.37" width="7.60" height="7.60" fill="#9B8A2F"/>
<rect x="495.98" y="496.75" width="7.60" height="7.60" fill="#9B8A2F"/>
<rect x="502.30" y="492.72" width="7.60" height="7.60" fill="#9B8A2F"/>
<rect x="507.74" y="488.39" width="7.60" height="7.60" fill="#9B8A2F"/>
<rect x="512.66" y="484.72" width="7.60" height="7.60" fill="#9B8A2F"/>
<rect x="525.13" y="475.71" width="7.60" height="7.60" fill="#9B8A2F"/>
<rect x="534.44" y="468.73" width="7.60" height="7.60" fill="#9B8A2F"/>
<rect x="536.72" y="467.35" width="7.60" height="7.60" fill="#9B8A2F"/>
<rect x="550.42" y="459.80" width="7.60" height="7.60" fill="#9B8A2F"/>
<rect x="557.27" y="455.81" width="7.60" height="7.60" fill="#9B8A2F"/>
<rect x="562.72" y="449.27" width="7.60" height="7.60" fill="#9B8A2F"/>
<rect x="564.83" y="448.95" width="7.60" height="7.60" fill="#9B8A2F"/>
<rect x="570.97" y="447.15" width="7.60" height="7.60" fill="#9B8A2F"/>
<rect x="581.34" y="441.30" width="7.60" height="7.60" fill="#9B8A2F"/>
<rect x="592.93" y="432.35" width="7.60" height="7.60" fill="#9B8A2F"/>
<rect x="594.34" y="432.30" width="7.60" height="7.60" fill="#9B8A2F"/>
<rect x="599.78" y="430.93" width="7.60" height="7.60" fill="#9B8A2F"/>
<rect x="607.86" y="425.92" width="7.60" height="7.60" fill="#9B8A2F"/>
<polyline points="457.62,534.88 458.85,533.27 464.47,527.04 470.62,522.50 479.75,514.58 486.43,508.94 496.09,500.40 499.42,497.46 505.75,493.35 511.19,488.84 516.11,485.03 528.58,475.62 537.89,468.62 540.17,466.93 553.87,459.02 560.72,454.83 566.17,448.72 568.28,447.63 574.42,445.80 584.79,439.68 596.38,430.23 597.78,430.14 603.23,428.83 611.31,423.64" fill="none" stroke="#637538" stroke-width="1.0"/>
<rect x="453.82" y="531.08" width="7.60" height="7.60" fill="#677B3C"/>
<rect x="455.05" y="529.47" width="7.60" height="7.60" fill="#677B3C"/>
<rect x="460.67" y="523.24" width="7.60" height="7.60" fill="#677B3C"/>
<rect x="466.82" y="518.70" width="7.60" height="7.60" fill="#677B3C"/>
<rect x="475.95" y="510.78" width="7.60" height="7.60" fill="#677B3C"/>
<rect x="482.63" y="505.14" width="7.60" height="7.60" fill="#677B3C"/>
<rect x="492.29" y="496.60" width="7.60" height="7.60" fill="#677B3C"/>
<rect x="495.62" y="493.66" width="7.60" height="7.60" fill="#677B3C"/>
<rect x="501.95" y="489.55" width="7.60" height="7.60" fill="#677B3C"/>
<rect x="507.39" y="485.04" width="7.60" height="7.60" fill="#677B3C"/>
<rect x="512.31" y="481.23" width="7.60" height="7.60" fill="#677B3C"/>
<rect x="524.78" y="471.82" width="7.60" height="7.60" fill="#677B3C"/>
<rect x="534.09" y="464.82" width="7.60" height="7.60" fill="#677B3C"/>
<rect x="536.37" y="463.13" width="7.60" height="7.60" fill="#677B3C"/>
<rect x="550.07" y="455.22" width="7.60" height="7.60" fill="#677B3C"/>
<rect x="556.92" y="451.03" width="7.60" height="7.60" fill="#677B3C"/>
<rect x="562.37" y="444.92" width="7.60" height="7.60" fill="#677B3C"/>
<rect x="564.48" y="443.83" width="7.60" height="7.60" fill="#677B3C"/>
<rect x="570.62" y="442.00" width="7.60" height="7.60" fill="#677B3C"/>
<rect x="580.99" y="435.88" width="7.60" height="7.60" fill="#677B3C"/>
<rect x="592.58" y="426.43" width="7.60" height="7.60" fill="#677B3C"/>
<rect x="593.98" y="426.34" width="7.60" height="7.60" fill="#677B3C"/>
<rect x="599.43" y="425.03" width="7.60" height="7.60" fill="#677B3C"/>
<rect x="607.51" y="419.84" width="7.60" height="7.60" fill="#677B3C"/>
<polyline points="456.39,532.21 457.62,532.49 463.24,522.62 469.39,519.33 478.52,510.88 485.20,504.76 494.86,496.64 498.19,491.01 504.52,488.57 509.96,483.27 514.88,479.26 527.35,468.77 536.66,463.39 538.94,459.08 552.64,452.35 559.49,448.23 564.94,445.10 567.05,437.00 573.19,438.51 583.56,432.28 595.15,425.13 596.55,418.59 602.00,420.85" fill="none" stroke="#2A6259" stroke-width="1.0"/>
<rect x="452.59" y="528.41" width="7.60" height="7.60" fill="#2D6A5E"/>
<rect x="453.82" y="528.69" width="7.60" height="7.60" fill="#2D6A5E"/>
<rect x="459.44" y="518.82" width="7.60" height="7.60" fill="#2D6A5E"/>
<rect x="465.59" y="515.53" width="7.60" height="7.60" fill="#2D6A5E"/>
<rect x="474.72" y="507.08" width="7.60" height="7.60" fill="#2D6A5E"/>
<rect x="481.40" y="500.96" width="7.60" height="7.60" fill="#2D6A5E"/>
<rect x="491.06" y="492.84" width="7.60" height="7.60" fill="#2D6A5E"/>
<rect x="494.39" y="487.21" width="7.60" height="7.60" fill="#2D6A5E"/>
<rect x="500.72" y="484.77" width="7.60" height="7.60" fill="#2D6A5E"/>
<rect x="506.16" y="479.47" width="7.60" height="7.60" fill="#2D6A5E"/>
<rect x="511.08" y="475.46" width="7.60" height="7.60" fill="#2D6A5E"/>
<rect x="523.55" y="464.97" width="7.60" height="7.60" fill="#2D6A5E"/>
<rect x="532.86" y="459.59" width="7.60" height="7.60" fill="#2D6A5E"/>
<rect x="535.14" y="455.28" width="7.60" height="7.60" fill="#2D6A5E"/>
<rect x="548.84" y="448.55" width="7.60" height="7.60" fill="#2D6A5E"/>
<rect x="555.69" y="444.43" width="7.60" height="7.60" fill="#2D6A5E"/>
<rect x="561.14" y="441.30" width="7.60" height="7.60" fill="#2D6A5E"/>
<rect x="563.25" y="433.20" width="7.60" height="7.60" fill="#2D6A5E"/>
<rect x="569.39" y="434.71" width="7.60" height="7.60" fill="#2D6A5E"/>
<rect x="579.76" y="428.48" width="7.60" height="7.60" fill="#2D6A5E"/>
<rect x="591.35" y="421.33" width="7.60" height="7.60" fill="#2D6A5E"/>
<rect x="592.75" y="414.79" width="7.60" height="7.60" fill="#2D6A5E"/>
<rect x="598.20" y="417.05" width="7.60" height="7.60" fill="#2D6A5E"/>
<polyline points="455.86,531.44 457.09,531.72 462.71,521.85 468.86,518.55 478.00,510.10 484.67,503.98 494.33,495.87 497.67,490.24 503.99,487.80 509.44,482.50 514.35,478.49 526.82,468.00 536.13,462.62 538.42,458.32 552.12,451.58 558.97,447.47 564.41,444.34 566.52,436.23 572.67,437.75 583.03,431.52 594.62,424.36 596.03,417.82 601.47,420.09" fill="none" stroke="#173A66" stroke-width="1.0"/>
<rect x="452.06" y="527.64" width="7.60" height="7.60" fill="#173A66"/>
<rect x="453.29" y="527.92" width="7.60" height="7.60" fill="#173A66"/>
<rect x="458.91" y="518.05" width="7.60" height="7.60" fill="#173A66"/>
<rect x="465.06" y="514.75" width="7.60" height="7.60" fill="#173A66"/>
<rect x="474.20" y="506.30" width="7.60" height="7.60" fill="#173A66"/>
<rect x="480.87" y="500.18" width="7.60" height="7.60" fill="#173A66"/>
<rect x="490.53" y="492.07" width="7.60" height="7.60" fill="#173A66"/>
<rect x="493.87" y="486.44" width="7.60" height="7.60" fill="#173A66"/>
<rect x="500.19" y="484.00" width="7.60" height="7.60" fill="#173A66"/>
<rect x="505.64" y="478.70" width="7.60" height="7.60" fill="#173A66"/>
<rect x="510.55" y="474.69" width="7.60" height="7.60" fill="#173A66"/>
<rect x="523.02" y="464.20" width="7.60" height="7.60" fill="#173A66"/>
<rect x="532.33" y="458.82" width="7.60" height="7.60" fill="#173A66"/>
<rect x="534.62" y="454.52" width="7.60" height="7.60" fill="#173A66"/>
<rect x="548.32" y="447.78" width="7.60" height="7.60" fill="#173A66"/>
<rect x="555.17" y="443.67" width="7.60" height="7.60" fill="#173A66"/>
<rect x="560.61" y="440.54" width="7.60" height="7.60" fill="#173A66"/>
<rect x="562.72" y="432.43" width="7.60" height="7.60" fill="#173A66"/>
<rect x="568.87" y="433.95" width="7.60" height="7.60" fill="#173A66"/>
<rect x="579.23" y="427.72" width="7.60" height="7.60" fill="#173A66"/>
<rect x="590.82" y="420.56" width="7.60" height="7.60" fill="#173A66"/>
<rect x="592.23" y="414.02" width="7.60" height="7.60" fill="#173A66"/>
<rect x="597.67" y="416.29" width="7.60" height="7.60" fill="#173A66"/>
<polyline points="455.86,530.67 457.09,530.95 462.71,521.08 468.86,517.79 478.00,509.34 484.67,503.22 494.33,495.11 497.67,489.48 503.99,487.04 509.44,481.74 514.35,477.73 526.82,467.25 536.13,461.87 538.42,457.56 552.12,450.84 558.97,446.72 564.41,443.59 566.52,435.49 572.67,437.00 583.03,430.78 594.62,423.62 596.03,417.08 601.47,419.35 609.55,413.62 624.83,398.92" fill="none" stroke="#3A3F55" stroke-width="1.0"/>
<rect x="452.44" y="527.24" width="6.85" height="6.85" fill="#fff" stroke="#34498C" stroke-width="0.95"/>
<rect x="453.67" y="527.53" width="6.85" height="6.85" fill="#fff" stroke="#34498C" stroke-width="0.95"/>
<rect x="459.29" y="517.66" width="6.85" height="6.85" fill="#fff" stroke="#34498C" stroke-width="0.95"/>
<rect x="465.44" y="514.36" width="6.85" height="6.85" fill="#fff" stroke="#34498C" stroke-width="0.95"/>
<rect x="474.57" y="505.92" width="6.85" height="6.85" fill="#fff" stroke="#34498C" stroke-width="0.95"/>
<rect x="481.24" y="499.80" width="6.85" height="6.85" fill="#fff" stroke="#34498C" stroke-width="0.95"/>
<rect x="490.91" y="491.69" width="6.85" height="6.85" fill="#fff" stroke="#34498C" stroke-width="0.95"/>
<rect x="494.24" y="486.05" width="6.85" height="6.85" fill="#fff" stroke="#34498C" stroke-width="0.95"/>
<rect x="500.57" y="483.62" width="6.85" height="6.85" fill="#fff" stroke="#34498C" stroke-width="0.95"/>
<rect x="506.01" y="478.32" width="6.85" height="6.85" fill="#fff" stroke="#34498C" stroke-width="0.95"/>
<rect x="510.93" y="474.31" width="6.85" height="6.85" fill="#fff" stroke="#34498C" stroke-width="0.95"/>
<rect x="523.40" y="463.82" width="6.85" height="6.85" fill="#fff" stroke="#34498C" stroke-width="0.95"/>
<rect x="532.71" y="458.44" width="6.85" height="6.85" fill="#fff" stroke="#34498C" stroke-width="0.95"/>
<rect x="534.99" y="454.14" width="6.85" height="6.85" fill="#fff" stroke="#34498C" stroke-width="0.95"/>
<rect x="548.69" y="447.41" width="6.85" height="6.85" fill="#fff" stroke="#34498C" stroke-width="0.95"/>
<rect x="555.54" y="443.30" width="6.85" height="6.85" fill="#fff" stroke="#34498C" stroke-width="0.95"/>
<rect x="560.99" y="440.17" width="6.85" height="6.85" fill="#fff" stroke="#34498C" stroke-width="0.95"/>
<rect x="563.09" y="432.06" width="6.85" height="6.85" fill="#fff" stroke="#34498C" stroke-width="0.95"/>
<rect x="569.24" y="433.58" width="6.85" height="6.85" fill="#fff" stroke="#34498C" stroke-width="0.95"/>
<rect x="579.60" y="427.35" width="6.85" height="6.85" fill="#fff" stroke="#34498C" stroke-width="0.95"/>
<rect x="591.20" y="420.20" width="6.85" height="6.85" fill="#fff" stroke="#34498C" stroke-width="0.95"/>
<rect x="592.60" y="413.66" width="6.85" height="6.85" fill="#fff" stroke="#34498C" stroke-width="0.95"/>
<rect x="598.05" y="415.92" width="6.85" height="6.85" fill="#fff" stroke="#34498C" stroke-width="0.95"/>
<rect x="606.13" y="410.19" width="6.85" height="6.85" fill="#fff" stroke="#34498C" stroke-width="0.95"/>
<rect x="621.41" y="395.50" width="6.85" height="6.85" fill="#fff" stroke="#34498C" stroke-width="0.95"/>
<line x1="579.6" y1="79.8" x2="579.6" y2="217.8" stroke="#000" stroke-width="1.8" stroke-dasharray="6,5"/>
<path d="M579.6,66.1 L584.4,75.3 L579.6,73.69999999999999 L574.8000000000001,75.3 Z" fill="#000"/>
<line x1="585.2" y1="408.2" x2="585.2" y2="535.2" stroke="#000" stroke-width="1.8" stroke-dasharray="6,5"/>
<path d="M585.2,396.5 L590.0,405.7 L585.2,404.1 L580.4000000000001,405.7 Z" fill="#000"/>
<polyline points="95.29,278.72 97.05,278.10 101.45,272.41 102.85,267.50 108.31,266.50 112.79,262.57 117.27,258.64 124.13,253.28 128.97,249.30 133.81,245.32 137.32,242.67 142.77,238.63 148.93,232.82 155.08,228.59 160.98,223.67 166.87,218.75 174.25,213.36 177.77,211.56 184.63,206.87 191.49,202.19 197.82,196.86 204.68,192.80 209.42,188.71 212.59,187.67 217.60,184.49 222.61,181.31 228.59,175.66 234.57,170.01 240.90,169.01 245.03,165.95 249.17,162.90 263.00,152.80 293.00,129.00" fill="none" stroke="#F7A6AF" stroke-width="1.0"/>
<rect x="91.49" y="274.92" width="7.60" height="7.60" fill="#F9B3BC"/>
<rect x="93.25" y="274.30" width="7.60" height="7.60" fill="#F9B3BC"/>
<rect x="97.65" y="268.61" width="7.60" height="7.60" fill="#F9B3BC"/>
<rect x="99.05" y="263.70" width="7.60" height="7.60" fill="#F9B3BC"/>
<rect x="104.51" y="262.70" width="7.60" height="7.60" fill="#F9B3BC"/>
<rect x="108.99" y="258.77" width="7.60" height="7.60" fill="#F9B3BC"/>
<rect x="113.47" y="254.84" width="7.60" height="7.60" fill="#F9B3BC"/>
<rect x="120.33" y="249.48" width="7.60" height="7.60" fill="#F9B3BC"/>
<rect x="125.17" y="245.50" width="7.60" height="7.60" fill="#F9B3BC"/>
<rect x="130.01" y="241.52" width="7.60" height="7.60" fill="#F9B3BC"/>
<rect x="133.52" y="238.87" width="7.60" height="7.60" fill="#F9B3BC"/>
<rect x="138.97" y="234.83" width="7.60" height="7.60" fill="#F9B3BC"/>
<rect x="145.13" y="229.02" width="7.60" height="7.60" fill="#F9B3BC"/>
<rect x="151.28" y="224.79" width="7.60" height="7.60" fill="#F9B3BC"/>
<rect x="157.18" y="219.87" width="7.60" height="7.60" fill="#F9B3BC"/>
<rect x="163.07" y="214.95" width="7.60" height="7.60" fill="#F9B3BC"/>
<rect x="170.45" y="209.56" width="7.60" height="7.60" fill="#F9B3BC"/>
<rect x="173.97" y="207.76" width="7.60" height="7.60" fill="#F9B3BC"/>
<rect x="180.83" y="203.07" width="7.60" height="7.60" fill="#F9B3BC"/>
<rect x="187.69" y="198.39" width="7.60" height="7.60" fill="#F9B3BC"/>
<rect x="194.02" y="193.06" width="7.60" height="7.60" fill="#F9B3BC"/>
<rect x="200.88" y="189.00" width="7.60" height="7.60" fill="#F9B3BC"/>
<rect x="205.62" y="184.91" width="7.60" height="7.60" fill="#F9B3BC"/>
<rect x="208.79" y="183.87" width="7.60" height="7.60" fill="#F9B3BC"/>
<rect x="213.80" y="180.69" width="7.60" height="7.60" fill="#F9B3BC"/>
<rect x="218.81" y="177.51" width="7.60" height="7.60" fill="#F9B3BC"/>
<rect x="224.79" y="171.86" width="7.60" height="7.60" fill="#F9B3BC"/>
<rect x="230.77" y="166.21" width="7.60" height="7.60" fill="#F9B3BC"/>
<rect x="237.10" y="165.21" width="7.60" height="7.60" fill="#F9B3BC"/>
<rect x="241.23" y="162.15" width="7.60" height="7.60" fill="#F9B3BC"/>
<rect x="245.37" y="159.10" width="7.60" height="7.60" fill="#F9B3BC"/>
<rect x="259.20" y="149.00" width="7.60" height="7.60" fill="#F9B3BC"/>
<rect x="289.20" y="125.20" width="7.60" height="7.60" fill="#F9B3BC"/>
<polyline points="94.94,275.42 96.70,274.79 101.10,269.07 102.50,264.15 107.95,263.11 112.44,259.15 116.92,255.19 123.78,249.78 128.62,245.77 133.45,241.76 136.97,239.08 142.42,235.01 148.58,229.16 154.73,224.89 160.62,219.92 166.51,214.96 173.90,209.52 177.42,207.70 184.28,202.96 191.13,198.24 197.47,192.86 204.32,188.75 209.07,184.64 212.24,183.57 217.25,180.35 222.26,177.14 228.24,171.45 234.22,165.76 240.55,164.71 244.68,161.63 248.82,158.55" fill="none" stroke="#F29A72" stroke-width="1.0"/>
<rect x="91.14" y="271.62" width="7.60" height="7.60" fill="#F4A07B"/>
<rect x="92.90" y="270.99" width="7.60" height="7.60" fill="#F4A07B"/>
<rect x="97.30" y="265.27" width="7.60" height="7.60" fill="#F4A07B"/>
<rect x="98.70" y="260.35" width="7.60" height="7.60" fill="#F4A07B"/>
<rect x="104.15" y="259.31" width="7.60" height="7.60" fill="#F4A07B"/>
<rect x="108.64" y="255.35" width="7.60" height="7.60" fill="#F4A07B"/>
<rect x="113.12" y="251.39" width="7.60" height="7.60" fill="#F4A07B"/>
<rect x="119.98" y="245.98" width="7.60" height="7.60" fill="#F4A07B"/>
<rect x="124.82" y="241.97" width="7.60" height="7.60" fill="#F4A07B"/>
<rect x="129.65" y="237.96" width="7.60" height="7.60" fill="#F4A07B"/>
<rect x="133.17" y="235.28" width="7.60" height="7.60" fill="#F4A07B"/>
<rect x="138.62" y="231.21" width="7.60" height="7.60" fill="#F4A07B"/>
<rect x="144.78" y="225.36" width="7.60" height="7.60" fill="#F4A07B"/>
<rect x="150.93" y="221.09" width="7.60" height="7.60" fill="#F4A07B"/>
<rect x="156.82" y="216.12" width="7.60" height="7.60" fill="#F4A07B"/>
<rect x="162.71" y="211.16" width="7.60" height="7.60" fill="#F4A07B"/>
<rect x="170.10" y="205.72" width="7.60" height="7.60" fill="#F4A07B"/>
<rect x="173.62" y="203.90" width="7.60" height="7.60" fill="#F4A07B"/>
<rect x="180.48" y="199.16" width="7.60" height="7.60" fill="#F4A07B"/>
<rect x="187.33" y="194.44" width="7.60" height="7.60" fill="#F4A07B"/>
<rect x="193.67" y="189.06" width="7.60" height="7.60" fill="#F4A07B"/>
<rect x="200.52" y="184.95" width="7.60" height="7.60" fill="#F4A07B"/>
<rect x="205.27" y="180.84" width="7.60" height="7.60" fill="#F4A07B"/>
<rect x="208.44" y="179.77" width="7.60" height="7.60" fill="#F4A07B"/>
<rect x="213.45" y="176.55" width="7.60" height="7.60" fill="#F4A07B"/>
<rect x="218.46" y="173.34" width="7.60" height="7.60" fill="#F4A07B"/>
<rect x="224.44" y="167.65" width="7.60" height="7.60" fill="#F4A07B"/>
<rect x="230.42" y="161.96" width="7.60" height="7.60" fill="#F4A07B"/>
<rect x="236.75" y="160.91" width="7.60" height="7.60" fill="#F4A07B"/>
<rect x="240.88" y="157.83" width="7.60" height="7.60" fill="#F4A07B"/>
<rect x="245.02" y="154.75" width="7.60" height="7.60" fill="#F4A07B"/>
<polyline points="94.77,274.62 96.52,273.98 100.92,268.26 102.33,263.34 107.78,262.30 112.26,258.33 116.75,254.37 123.61,248.95 128.44,244.93 133.28,240.91 136.79,238.24 142.25,234.15 148.40,228.29 154.56,224.02 160.45,219.05 166.34,214.08 173.72,208.63 177.24,206.80 184.10,202.06 190.96,197.33 197.29,191.94 204.15,187.83 208.90,183.71 212.06,182.64 217.07,179.42 222.09,176.20 228.06,170.50 234.04,164.80 240.37,163.75 244.51,160.66 248.64,157.58 263.00,145.10" fill="none" stroke="#D58D3C" stroke-width="1.0"/>
<rect x="90.97" y="270.82" width="7.60" height="7.60" fill="#DC9643"/>
<rect x="92.72" y="270.18" width="7.60" height="7.60" fill="#DC9643"/>
<rect x="97.12" y="264.46" width="7.60" height="7.60" fill="#DC9643"/>
<rect x="98.53" y="259.54" width="7.60" height="7.60" fill="#DC9643"/>
<rect x="103.98" y="258.50" width="7.60" height="7.60" fill="#DC9643"/>
<rect x="108.46" y="254.53" width="7.60" height="7.60" fill="#DC9643"/>
<rect x="112.95" y="250.57" width="7.60" height="7.60" fill="#DC9643"/>
<rect x="119.81" y="245.15" width="7.60" height="7.60" fill="#DC9643"/>
<rect x="124.64" y="241.13" width="7.60" height="7.60" fill="#DC9643"/>
<rect x="129.48" y="237.11" width="7.60" height="7.60" fill="#DC9643"/>
<rect x="132.99" y="234.44" width="7.60" height="7.60" fill="#DC9643"/>
<rect x="138.45" y="230.35" width="7.60" height="7.60" fill="#DC9643"/>
<rect x="144.60" y="224.49" width="7.60" height="7.60" fill="#DC9643"/>
<rect x="150.76" y="220.22" width="7.60" height="7.60" fill="#DC9643"/>
<rect x="156.65" y="215.25" width="7.60" height="7.60" fill="#DC9643"/>
<rect x="162.54" y="210.28" width="7.60" height="7.60" fill="#DC9643"/>
<rect x="169.92" y="204.83" width="7.60" height="7.60" fill="#DC9643"/>
<rect x="173.44" y="203.00" width="7.60" height="7.60" fill="#DC9643"/>
<rect x="180.30" y="198.26" width="7.60" height="7.60" fill="#DC9643"/>
<rect x="187.16" y="193.53" width="7.60" height="7.60" fill="#DC9643"/>
<rect x="193.49" y="188.14" width="7.60" height="7.60" fill="#DC9643"/>
<rect x="200.35" y="184.03" width="7.60" height="7.60" fill="#DC9643"/>
<rect x="205.10" y="179.91" width="7.60" height="7.60" fill="#DC9643"/>
<rect x="208.26" y="178.84" width="7.60" height="7.60" fill="#DC9643"/>
<rect x="213.27" y="175.62" width="7.60" height="7.60" fill="#DC9643"/>
<rect x="218.29" y="172.40" width="7.60" height="7.60" fill="#DC9643"/>
<rect x="224.26" y="166.70" width="7.60" height="7.60" fill="#DC9643"/>
<rect x="230.24" y="161.00" width="7.60" height="7.60" fill="#DC9643"/>
<rect x="236.57" y="159.95" width="7.60" height="7.60" fill="#DC9643"/>
<rect x="240.71" y="156.86" width="7.60" height="7.60" fill="#DC9643"/>
<rect x="244.84" y="153.78" width="7.60" height="7.60" fill="#DC9643"/>
<rect x="259.20" y="141.30" width="7.60" height="7.60" fill="#DC9643"/>
<polyline points="94.77,273.92 96.52,273.28 100.92,267.55 102.33,262.63 107.78,261.58 112.26,257.61 116.75,253.64 123.61,248.22 128.44,244.19 133.28,240.17 136.79,237.49 142.25,233.40 148.40,227.53 154.56,223.25 160.45,218.27 166.34,213.30 173.72,207.84 177.24,206.01 184.10,201.26 190.96,196.52 197.29,191.13 204.15,187.00 208.90,182.88 212.06,181.80 217.07,178.58 222.09,175.35 228.06,169.65 234.04,163.95 240.37,162.88 244.51,159.79 248.64,156.70" fill="none" stroke="#C88A34" stroke-width="1.0"/>
<rect x="90.97" y="270.12" width="7.60" height="7.60" fill="#CF9139"/>
<rect x="92.72" y="269.48" width="7.60" height="7.60" fill="#CF9139"/>
<rect x="97.12" y="263.75" width="7.60" height="7.60" fill="#CF9139"/>
<rect x="98.53" y="258.83" width="7.60" height="7.60" fill="#CF9139"/>
<rect x="103.98" y="257.78" width="7.60" height="7.60" fill="#CF9139"/>
<rect x="108.46" y="253.81" width="7.60" height="7.60" fill="#CF9139"/>
<rect x="112.95" y="249.84" width="7.60" height="7.60" fill="#CF9139"/>
<rect x="119.81" y="244.42" width="7.60" height="7.60" fill="#CF9139"/>
<rect x="124.64" y="240.39" width="7.60" height="7.60" fill="#CF9139"/>
<rect x="129.48" y="236.37" width="7.60" height="7.60" fill="#CF9139"/>
<rect x="132.99" y="233.69" width="7.60" height="7.60" fill="#CF9139"/>
<rect x="138.45" y="229.60" width="7.60" height="7.60" fill="#CF9139"/>
<rect x="144.60" y="223.73" width="7.60" height="7.60" fill="#CF9139"/>
<rect x="150.76" y="219.45" width="7.60" height="7.60" fill="#CF9139"/>
<rect x="156.65" y="214.47" width="7.60" height="7.60" fill="#CF9139"/>
<rect x="162.54" y="209.50" width="7.60" height="7.60" fill="#CF9139"/>
<rect x="169.92" y="204.04" width="7.60" height="7.60" fill="#CF9139"/>
<rect x="173.44" y="202.21" width="7.60" height="7.60" fill="#CF9139"/>
<rect x="180.30" y="197.46" width="7.60" height="7.60" fill="#CF9139"/>
<rect x="187.16" y="192.72" width="7.60" height="7.60" fill="#CF9139"/>
<rect x="193.49" y="187.33" width="7.60" height="7.60" fill="#CF9139"/>
<rect x="200.35" y="183.20" width="7.60" height="7.60" fill="#CF9139"/>
<rect x="205.10" y="179.08" width="7.60" height="7.60" fill="#CF9139"/>
<rect x="208.26" y="178.00" width="7.60" height="7.60" fill="#CF9139"/>
<rect x="213.27" y="174.78" width="7.60" height="7.60" fill="#CF9139"/>
<rect x="218.29" y="171.55" width="7.60" height="7.60" fill="#CF9139"/>
<rect x="224.26" y="165.85" width="7.60" height="7.60" fill="#CF9139"/>
<rect x="230.24" y="160.15" width="7.60" height="7.60" fill="#CF9139"/>
<rect x="236.57" y="159.08" width="7.60" height="7.60" fill="#CF9139"/>
<rect x="240.71" y="155.99" width="7.60" height="7.60" fill="#CF9139"/>
<rect x="244.84" y="152.90" width="7.60" height="7.60" fill="#CF9139"/>
<polyline points="94.59,273.22 96.35,272.58 100.74,266.85 102.15,261.92 107.60,260.87 112.09,256.89 116.57,252.92 123.43,247.48 128.27,243.45 133.10,239.43 136.62,236.74 142.07,232.64 148.23,226.77 154.38,222.48 160.27,217.50 166.16,212.52 173.55,207.05 177.07,205.22 183.92,200.46 190.78,195.71 197.11,190.31 203.97,186.18 208.72,182.05 211.89,180.97 216.90,177.74 221.91,174.51 227.89,168.79 233.87,163.09 240.20,162.01 244.33,158.92 248.46,155.83" fill="none" stroke="#93842F" stroke-width="1.0"/>
<rect x="90.79" y="269.42" width="7.60" height="7.60" fill="#9B8A2F"/>
<rect x="92.55" y="268.78" width="7.60" height="7.60" fill="#9B8A2F"/>
<rect x="96.94" y="263.05" width="7.60" height="7.60" fill="#9B8A2F"/>
<rect x="98.35" y="258.12" width="7.60" height="7.60" fill="#9B8A2F"/>
<rect x="103.80" y="257.07" width="7.60" height="7.60" fill="#9B8A2F"/>
<rect x="108.29" y="253.09" width="7.60" height="7.60" fill="#9B8A2F"/>
<rect x="112.77" y="249.12" width="7.60" height="7.60" fill="#9B8A2F"/>
<rect x="119.63" y="243.68" width="7.60" height="7.60" fill="#9B8A2F"/>
<rect x="124.47" y="239.65" width="7.60" height="7.60" fill="#9B8A2F"/>
<rect x="129.30" y="235.63" width="7.60" height="7.60" fill="#9B8A2F"/>
<rect x="132.82" y="232.94" width="7.60" height="7.60" fill="#9B8A2F"/>
<rect x="138.27" y="228.84" width="7.60" height="7.60" fill="#9B8A2F"/>
<rect x="144.43" y="222.97" width="7.60" height="7.60" fill="#9B8A2F"/>
<rect x="150.58" y="218.68" width="7.60" height="7.60" fill="#9B8A2F"/>
<rect x="156.47" y="213.70" width="7.60" height="7.60" fill="#9B8A2F"/>
<rect x="162.36" y="208.72" width="7.60" height="7.60" fill="#9B8A2F"/>
<rect x="169.75" y="203.25" width="7.60" height="7.60" fill="#9B8A2F"/>
<rect x="173.27" y="201.42" width="7.60" height="7.60" fill="#9B8A2F"/>
<rect x="180.12" y="196.66" width="7.60" height="7.60" fill="#9B8A2F"/>
<rect x="186.98" y="191.91" width="7.60" height="7.60" fill="#9B8A2F"/>
<rect x="193.31" y="186.51" width="7.60" height="7.60" fill="#9B8A2F"/>
<rect x="200.17" y="182.38" width="7.60" height="7.60" fill="#9B8A2F"/>
<rect x="204.92" y="178.25" width="7.60" height="7.60" fill="#9B8A2F"/>
<rect x="208.09" y="177.17" width="7.60" height="7.60" fill="#9B8A2F"/>
<rect x="213.10" y="173.94" width="7.60" height="7.60" fill="#9B8A2F"/>
<rect x="218.11" y="170.71" width="7.60" height="7.60" fill="#9B8A2F"/>
<rect x="224.09" y="164.99" width="7.60" height="7.60" fill="#9B8A2F"/>
<rect x="230.07" y="159.29" width="7.60" height="7.60" fill="#9B8A2F"/>
<rect x="236.40" y="158.21" width="7.60" height="7.60" fill="#9B8A2F"/>
<rect x="240.53" y="155.12" width="7.60" height="7.60" fill="#9B8A2F"/>
<rect x="244.66" y="152.03" width="7.60" height="7.60" fill="#9B8A2F"/>
<polyline points="94.41,272.12 96.17,271.48 100.57,265.73 101.98,260.81 107.43,259.74 111.91,255.75 116.40,251.77 123.25,246.32 128.09,242.28 132.93,238.24 136.44,235.54 141.89,231.44 148.05,225.55 154.20,221.25 160.10,216.25 165.99,211.26 173.37,205.77 176.89,203.93 183.75,199.16 190.61,194.39 196.94,188.98 203.80,184.83 208.54,180.69 211.71,179.60 216.72,176.36 221.73,173.12 227.71,167.39 233.69,161.67 240.02,160.58 244.16,157.48 248.29,154.38" fill="none" stroke="#637538" stroke-width="1.0"/>
<rect x="90.61" y="268.32" width="7.60" height="7.60" fill="#677B3C"/>
<rect x="92.37" y="267.68" width="7.60" height="7.60" fill="#677B3C"/>
<rect x="96.77" y="261.93" width="7.60" height="7.60" fill="#677B3C"/>
<rect x="98.18" y="257.01" width="7.60" height="7.60" fill="#677B3C"/>
<rect x="103.63" y="255.94" width="7.60" height="7.60" fill="#677B3C"/>
<rect x="108.11" y="251.95" width="7.60" height="7.60" fill="#677B3C"/>
<rect x="112.60" y="247.97" width="7.60" height="7.60" fill="#677B3C"/>
<rect x="119.45" y="242.52" width="7.60" height="7.60" fill="#677B3C"/>
<rect x="124.29" y="238.48" width="7.60" height="7.60" fill="#677B3C"/>
<rect x="129.13" y="234.44" width="7.60" height="7.60" fill="#677B3C"/>
<rect x="132.64" y="231.74" width="7.60" height="7.60" fill="#677B3C"/>
<rect x="138.09" y="227.64" width="7.60" height="7.60" fill="#677B3C"/>
<rect x="144.25" y="221.75" width="7.60" height="7.60" fill="#677B3C"/>
<rect x="150.40" y="217.45" width="7.60" height="7.60" fill="#677B3C"/>
<rect x="156.30" y="212.45" width="7.60" height="7.60" fill="#677B3C"/>
<rect x="162.19" y="207.46" width="7.60" height="7.60" fill="#677B3C"/>
<rect x="169.57" y="201.97" width="7.60" height="7.60" fill="#677B3C"/>
<rect x="173.09" y="200.13" width="7.60" height="7.60" fill="#677B3C"/>
<rect x="179.95" y="195.36" width="7.60" height="7.60" fill="#677B3C"/>
<rect x="186.81" y="190.59" width="7.60" height="7.60" fill="#677B3C"/>
<rect x="193.14" y="185.18" width="7.60" height="7.60" fill="#677B3C"/>
<rect x="200.00" y="181.03" width="7.60" height="7.60" fill="#677B3C"/>
<rect x="204.74" y="176.89" width="7.60" height="7.60" fill="#677B3C"/>
<rect x="207.91" y="175.80" width="7.60" height="7.60" fill="#677B3C"/>
<rect x="212.92" y="172.56" width="7.60" height="7.60" fill="#677B3C"/>
<rect x="217.93" y="169.32" width="7.60" height="7.60" fill="#677B3C"/>
<rect x="223.91" y="163.59" width="7.60" height="7.60" fill="#677B3C"/>
<rect x="229.89" y="157.87" width="7.60" height="7.60" fill="#677B3C"/>
<rect x="236.22" y="156.78" width="7.60" height="7.60" fill="#677B3C"/>
<rect x="240.36" y="153.68" width="7.60" height="7.60" fill="#677B3C"/>
<rect x="244.49" y="150.58" width="7.60" height="7.60" fill="#677B3C"/>
<polyline points="93.89,269.90 95.64,269.50 100.04,263.00 101.45,256.80 106.90,256.80 115.87,248.50 122.73,243.00 132.40,234.70 135.92,232.00 141.37,227.90 147.52,221.60 153.68,217.40 165.46,207.00 172.85,201.50 176.36,199.90 190.08,190.50 196.41,184.80 203.27,180.90 208.02,176.50 211.18,175.80 221.21,169.50 233.16,157.00 239.50,157.00 247.76,150.60" fill="none" stroke="#2A6259" stroke-width="1.0"/>
<rect x="90.09" y="266.10" width="7.60" height="7.60" fill="#2D6A5E"/>
<rect x="91.84" y="265.70" width="7.60" height="7.60" fill="#2D6A5E"/>
<rect x="96.24" y="259.20" width="7.60" height="7.60" fill="#2D6A5E"/>
<rect x="97.65" y="253.00" width="7.60" height="7.60" fill="#2D6A5E"/>
<rect x="103.10" y="253.00" width="7.60" height="7.60" fill="#2D6A5E"/>
<rect x="112.07" y="244.70" width="7.60" height="7.60" fill="#2D6A5E"/>
<rect x="118.93" y="239.20" width="7.60" height="7.60" fill="#2D6A5E"/>
<rect x="128.60" y="230.90" width="7.60" height="7.60" fill="#2D6A5E"/>
<rect x="132.12" y="228.20" width="7.60" height="7.60" fill="#2D6A5E"/>
<rect x="137.57" y="224.10" width="7.60" height="7.60" fill="#2D6A5E"/>
<rect x="143.72" y="217.80" width="7.60" height="7.60" fill="#2D6A5E"/>
<rect x="149.88" y="213.60" width="7.60" height="7.60" fill="#2D6A5E"/>
<rect x="161.66" y="203.20" width="7.60" height="7.60" fill="#2D6A5E"/>
<rect x="169.05" y="197.70" width="7.60" height="7.60" fill="#2D6A5E"/>
<rect x="172.56" y="196.10" width="7.60" height="7.60" fill="#2D6A5E"/>
<rect x="186.28" y="186.70" width="7.60" height="7.60" fill="#2D6A5E"/>
<rect x="192.61" y="181.00" width="7.60" height="7.60" fill="#2D6A5E"/>
<rect x="199.47" y="177.10" width="7.60" height="7.60" fill="#2D6A5E"/>
<rect x="204.22" y="172.70" width="7.60" height="7.60" fill="#2D6A5E"/>
<rect x="207.38" y="172.00" width="7.60" height="7.60" fill="#2D6A5E"/>
<rect x="217.41" y="165.70" width="7.60" height="7.60" fill="#2D6A5E"/>
<rect x="229.36" y="153.20" width="7.60" height="7.60" fill="#2D6A5E"/>
<rect x="235.70" y="153.20" width="7.60" height="7.60" fill="#2D6A5E"/>
<rect x="243.96" y="146.80" width="7.60" height="7.60" fill="#2D6A5E"/>
<polyline points="93.89,269.20 95.64,268.80 100.04,262.30 101.45,256.10 106.90,256.10 115.87,247.80 122.73,242.30 132.40,234.00 135.92,231.30 141.37,227.20 147.52,220.90 153.68,216.70 165.46,206.30 172.85,200.80 176.36,199.20 190.08,189.80 196.41,184.10 203.27,180.20 208.02,175.80 211.18,175.10 221.21,168.80 233.16,156.30 239.50,156.30 247.76,149.90" fill="none" stroke="#173A66" stroke-width="1.0"/>
<rect x="90.09" y="265.40" width="7.60" height="7.60" fill="#173A66"/>
<rect x="91.84" y="265.00" width="7.60" height="7.60" fill="#173A66"/>
<rect x="96.24" y="258.50" width="7.60" height="7.60" fill="#173A66"/>
<rect x="97.65" y="252.30" width="7.60" height="7.60" fill="#173A66"/>
<rect x="103.10" y="252.30" width="7.60" height="7.60" fill="#173A66"/>
<rect x="112.07" y="244.00" width="7.60" height="7.60" fill="#173A66"/>
<rect x="118.93" y="238.50" width="7.60" height="7.60" fill="#173A66"/>
<rect x="128.60" y="230.20" width="7.60" height="7.60" fill="#173A66"/>
<rect x="132.12" y="227.50" width="7.60" height="7.60" fill="#173A66"/>
<rect x="137.57" y="223.40" width="7.60" height="7.60" fill="#173A66"/>
<rect x="143.72" y="217.10" width="7.60" height="7.60" fill="#173A66"/>
<rect x="149.88" y="212.90" width="7.60" height="7.60" fill="#173A66"/>
<rect x="161.66" y="202.50" width="7.60" height="7.60" fill="#173A66"/>
<rect x="169.05" y="197.00" width="7.60" height="7.60" fill="#173A66"/>
<rect x="172.56" y="195.40" width="7.60" height="7.60" fill="#173A66"/>
<rect x="186.28" y="186.00" width="7.60" height="7.60" fill="#173A66"/>
<rect x="192.61" y="180.30" width="7.60" height="7.60" fill="#173A66"/>
<rect x="199.47" y="176.40" width="7.60" height="7.60" fill="#173A66"/>
<rect x="204.22" y="172.00" width="7.60" height="7.60" fill="#173A66"/>
<rect x="207.38" y="171.30" width="7.60" height="7.60" fill="#173A66"/>
<rect x="217.41" y="165.00" width="7.60" height="7.60" fill="#173A66"/>
<rect x="229.36" y="152.50" width="7.60" height="7.60" fill="#173A66"/>
<rect x="235.70" y="152.50" width="7.60" height="7.60" fill="#173A66"/>
<rect x="243.96" y="146.10" width="7.60" height="7.60" fill="#173A66"/>
<polyline points="93.89,268.90 95.64,268.50 100.04,262.00 101.45,255.80 106.90,255.80 115.87,247.50 122.73,242.00 132.40,233.70 135.92,231.00 141.37,226.90 147.52,220.60 153.68,216.40 165.46,206.00 172.85,200.50 176.36,198.90 190.08,189.50 196.41,183.80 203.27,179.90 208.02,175.50 211.18,174.80 221.21,168.50 233.16,156.00 239.50,156.00 247.76,149.60 262.53,132.80 292.25,111.70" fill="none" stroke="#34498C" stroke-width="1.2"/>
<rect x="90.49" y="265.50" width="6.80" height="6.80" fill="#fff" stroke="#34498C" stroke-width="1.0"/>
<rect x="92.24" y="265.10" width="6.80" height="6.80" fill="#fff" stroke="#34498C" stroke-width="1.0"/>
<rect x="96.64" y="258.60" width="6.80" height="6.80" fill="#fff" stroke="#34498C" stroke-width="1.0"/>
<rect x="98.05" y="252.40" width="6.80" height="6.80" fill="#fff" stroke="#34498C" stroke-width="1.0"/>
<rect x="103.50" y="252.40" width="6.80" height="6.80" fill="#fff" stroke="#34498C" stroke-width="1.0"/>
<rect x="112.47" y="244.10" width="6.80" height="6.80" fill="#fff" stroke="#34498C" stroke-width="1.0"/>
<rect x="119.33" y="238.60" width="6.80" height="6.80" fill="#fff" stroke="#34498C" stroke-width="1.0"/>
<rect x="129.00" y="230.30" width="6.80" height="6.80" fill="#fff" stroke="#34498C" stroke-width="1.0"/>
<rect x="132.52" y="227.60" width="6.80" height="6.80" fill="#fff" stroke="#34498C" stroke-width="1.0"/>
<rect x="137.97" y="223.50" width="6.80" height="6.80" fill="#fff" stroke="#34498C" stroke-width="1.0"/>
<rect x="144.12" y="217.20" width="6.80" height="6.80" fill="#fff" stroke="#34498C" stroke-width="1.0"/>
<rect x="150.28" y="213.00" width="6.80" height="6.80" fill="#fff" stroke="#34498C" stroke-width="1.0"/>
<rect x="162.06" y="202.60" width="6.80" height="6.80" fill="#fff" stroke="#34498C" stroke-width="1.0"/>
<rect x="169.45" y="197.10" width="6.80" height="6.80" fill="#fff" stroke="#34498C" stroke-width="1.0"/>
<rect x="172.96" y="195.50" width="6.80" height="6.80" fill="#fff" stroke="#34498C" stroke-width="1.0"/>
<rect x="186.68" y="186.10" width="6.80" height="6.80" fill="#fff" stroke="#34498C" stroke-width="1.0"/>
<rect x="193.01" y="180.40" width="6.80" height="6.80" fill="#fff" stroke="#34498C" stroke-width="1.0"/>
<rect x="199.87" y="176.50" width="6.80" height="6.80" fill="#fff" stroke="#34498C" stroke-width="1.0"/>
<rect x="204.62" y="172.10" width="6.80" height="6.80" fill="#fff" stroke="#34498C" stroke-width="1.0"/>
<rect x="207.78" y="171.40" width="6.80" height="6.80" fill="#fff" stroke="#34498C" stroke-width="1.0"/>
<rect x="217.81" y="165.10" width="6.80" height="6.80" fill="#fff" stroke="#34498C" stroke-width="1.0"/>
<rect x="229.76" y="152.60" width="6.80" height="6.80" fill="#fff" stroke="#34498C" stroke-width="1.0"/>
<rect x="236.10" y="152.60" width="6.80" height="6.80" fill="#fff" stroke="#34498C" stroke-width="1.0"/>
<rect x="244.36" y="146.20" width="6.80" height="6.80" fill="#fff" stroke="#34498C" stroke-width="1.0"/>
<rect x="259.13" y="129.40" width="6.80" height="6.80" fill="#fff" stroke="#34498C" stroke-width="1.0"/>
<rect x="288.85" y="108.30" width="6.80" height="6.80" fill="#fff" stroke="#34498C" stroke-width="1.0"/>
<polyline points="91.50,199.00 95.30,195.90 99.90,188.20 106.80,185.20 115.20,178.30 122.80,171.40 132.80,166.10 141.20,160.70 142.10,158.90 147.50,154.60 152.80,152.40 159.50,145.50 166.20,138.50 174.20,134.80 176.40,139.60 190.30,128.90 196.70,121.90 204.20,119.80 209.00,111.80 221.30,104.30 233.40,99.20 239.60,95.70 247.60,87.20 262.80,78.50 292.60,58.30" fill="none" stroke="#F7A6AF" stroke-width="1.0"/>
<circle cx="91.50" cy="199.00" r="4.50" fill="#F9B3BC"/>
<circle cx="95.30" cy="195.90" r="4.50" fill="#F9B3BC"/>
<circle cx="99.90" cy="188.20" r="4.50" fill="#F9B3BC"/>
<circle cx="106.80" cy="185.20" r="4.50" fill="#F9B3BC"/>
<circle cx="115.20" cy="178.30" r="4.50" fill="#F9B3BC"/>
<circle cx="122.80" cy="171.40" r="4.50" fill="#F9B3BC"/>
<circle cx="132.80" cy="166.10" r="4.50" fill="#F9B3BC"/>
<circle cx="141.20" cy="160.70" r="4.50" fill="#F9B3BC"/>
<circle cx="142.10" cy="158.90" r="4.50" fill="#F9B3BC"/>
<circle cx="147.50" cy="154.60" r="4.50" fill="#F9B3BC"/>
<circle cx="152.80" cy="152.40" r="4.50" fill="#F9B3BC"/>
<circle cx="159.50" cy="145.50" r="4.50" fill="#F9B3BC"/>
<circle cx="166.20" cy="138.50" r="4.50" fill="#F9B3BC"/>
<circle cx="174.20" cy="134.80" r="4.50" fill="#F9B3BC"/>
<circle cx="176.40" cy="139.60" r="4.50" fill="#F9B3BC"/>
<circle cx="190.30" cy="128.90" r="4.50" fill="#F9B3BC"/>
<circle cx="196.70" cy="121.90" r="4.50" fill="#F9B3BC"/>
<circle cx="204.20" cy="119.80" r="4.50" fill="#F9B3BC"/>
<circle cx="209.00" cy="111.80" r="4.50" fill="#F9B3BC"/>
<circle cx="221.30" cy="104.30" r="4.50" fill="#F9B3BC"/>
<circle cx="233.40" cy="99.20" r="4.50" fill="#F9B3BC"/>
<circle cx="239.60" cy="95.70" r="4.50" fill="#F9B3BC"/>
<circle cx="247.60" cy="87.20" r="4.50" fill="#F9B3BC"/>
<circle cx="262.80" cy="78.50" r="4.50" fill="#F9B3BC"/>
<circle cx="292.60" cy="58.30" r="4.50" fill="#F9B3BC"/>
<polyline points="94.77,197.40 100.92,193.21 107.78,188.57 116.75,182.85 123.61,180.76 133.28,177.86 142.25,175.26 148.40,173.64 154.56,172.04 166.34,166.81 173.72,162.04 190.96,151.00 197.29,146.98 204.15,142.65 212.06,137.68 222.09,131.43 234.04,124.03 240.37,120.14 248.64,115.09" fill="none" stroke="#D9963F" stroke-width="1.0"/>
<circle cx="94.77" cy="197.40" r="4.30" fill="#D9963F"/>
<circle cx="100.92" cy="193.21" r="4.30" fill="#D9963F"/>
<circle cx="107.78" cy="188.57" r="4.30" fill="#D9963F"/>
<circle cx="116.75" cy="182.85" r="4.30" fill="#D9963F"/>
<circle cx="123.61" cy="180.76" r="4.30" fill="#D9963F"/>
<circle cx="133.28" cy="177.86" r="4.30" fill="#D9963F"/>
<circle cx="142.25" cy="175.26" r="4.30" fill="#D9963F"/>
<circle cx="148.40" cy="173.64" r="4.30" fill="#D9963F"/>
<circle cx="154.56" cy="172.04" r="4.30" fill="#D9963F"/>
<circle cx="166.34" cy="166.81" r="4.30" fill="#D9963F"/>
<circle cx="173.72" cy="162.04" r="4.30" fill="#D9963F"/>
<circle cx="190.96" cy="151.00" r="4.30" fill="#D9963F"/>
<circle cx="197.29" cy="146.98" r="4.30" fill="#D9963F"/>
<circle cx="204.15" cy="142.65" r="4.30" fill="#D9963F"/>
<circle cx="212.06" cy="137.68" r="4.30" fill="#D9963F"/>
<circle cx="222.09" cy="131.43" r="4.30" fill="#D9963F"/>
<circle cx="234.04" cy="124.03" r="4.30" fill="#D9963F"/>
<circle cx="240.37" cy="120.14" r="4.30" fill="#D9963F"/>
<circle cx="248.64" cy="115.09" r="4.30" fill="#D9963F"/>
<polyline points="93.01,198.40 99.16,194.21 106.02,189.57 114.99,183.85 121.85,181.76 131.52,178.86 140.49,176.26 146.64,174.64 152.80,173.04 164.58,167.81 171.97,163.04 189.20,152.00 195.53,147.98 202.39,143.65 210.30,138.68 220.33,132.43 232.29,125.03 238.62,121.14 246.88,116.09" fill="none" stroke="#B88F3A" stroke-width="1.0"/>
<circle cx="93.01" cy="198.40" r="4.30" fill="#B88F3A"/>
<circle cx="99.16" cy="194.21" r="4.30" fill="#B88F3A"/>
<circle cx="106.02" cy="189.57" r="4.30" fill="#B88F3A"/>
<circle cx="114.99" cy="183.85" r="4.30" fill="#B88F3A"/>
<circle cx="121.85" cy="181.76" r="4.30" fill="#B88F3A"/>
<circle cx="131.52" cy="178.86" r="4.30" fill="#B88F3A"/>
<circle cx="140.49" cy="176.26" r="4.30" fill="#B88F3A"/>
<circle cx="146.64" cy="174.64" r="4.30" fill="#B88F3A"/>
<circle cx="152.80" cy="173.04" r="4.30" fill="#B88F3A"/>
<circle cx="164.58" cy="167.81" r="4.30" fill="#B88F3A"/>
<circle cx="171.97" cy="163.04" r="4.30" fill="#B88F3A"/>
<circle cx="189.20" cy="152.00" r="4.30" fill="#B88F3A"/>
<circle cx="195.53" cy="147.98" r="4.30" fill="#B88F3A"/>
<circle cx="202.39" cy="143.65" r="4.30" fill="#B88F3A"/>
<circle cx="210.30" cy="138.68" r="4.30" fill="#B88F3A"/>
<circle cx="220.33" cy="132.43" r="4.30" fill="#B88F3A"/>
<circle cx="232.29" cy="125.03" r="4.30" fill="#B88F3A"/>
<circle cx="238.62" cy="121.14" r="4.30" fill="#B88F3A"/>
<circle cx="246.88" cy="116.09" r="4.30" fill="#B88F3A"/>
<polyline points="95.29,199.90 101.45,195.71 108.31,191.07 117.27,185.35 124.13,183.26 133.81,180.36 142.77,177.76 148.93,176.14 155.08,174.54 166.87,169.31 174.25,164.54 191.49,153.50 197.82,149.48 204.68,145.15 212.59,140.18 222.61,133.93 234.57,126.53 240.90,122.64 249.17,117.59" fill="none" stroke="#8E8A32" stroke-width="1.0"/>
<circle cx="95.29" cy="199.90" r="4.30" fill="#8E8A32"/>
<circle cx="101.45" cy="195.71" r="4.30" fill="#8E8A32"/>
<circle cx="108.31" cy="191.07" r="4.30" fill="#8E8A32"/>
<circle cx="117.27" cy="185.35" r="4.30" fill="#8E8A32"/>
<circle cx="124.13" cy="183.26" r="4.30" fill="#8E8A32"/>
<circle cx="133.81" cy="180.36" r="4.30" fill="#8E8A32"/>
<circle cx="142.77" cy="177.76" r="4.30" fill="#8E8A32"/>
<circle cx="148.93" cy="176.14" r="4.30" fill="#8E8A32"/>
<circle cx="155.08" cy="174.54" r="4.30" fill="#8E8A32"/>
<circle cx="166.87" cy="169.31" r="4.30" fill="#8E8A32"/>
<circle cx="174.25" cy="164.54" r="4.30" fill="#8E8A32"/>
<circle cx="191.49" cy="153.50" r="4.30" fill="#8E8A32"/>
<circle cx="197.82" cy="149.48" r="4.30" fill="#8E8A32"/>
<circle cx="204.68" cy="145.15" r="4.30" fill="#8E8A32"/>
<circle cx="212.59" cy="140.18" r="4.30" fill="#8E8A32"/>
<circle cx="222.61" cy="133.93" r="4.30" fill="#8E8A32"/>
<circle cx="234.57" cy="126.53" r="4.30" fill="#8E8A32"/>
<circle cx="240.90" cy="122.64" r="4.30" fill="#8E8A32"/>
<circle cx="249.17" cy="117.59" r="4.30" fill="#8E8A32"/>
<polyline points="93.53,201.40 99.69,197.21 106.55,192.57 115.52,186.85 122.37,184.76 132.05,181.86 141.02,179.26 147.17,177.64 153.33,176.04 165.11,170.81 172.49,166.04 189.73,155.00 196.06,150.98 202.92,146.65 210.83,141.68 220.85,135.43 232.81,128.03 239.14,124.14 247.41,119.09" fill="none" stroke="#7A7F36" stroke-width="1.0"/>
<circle cx="93.53" cy="201.40" r="4.30" fill="#7A7F36"/>
<circle cx="99.69" cy="197.21" r="4.30" fill="#7A7F36"/>
<circle cx="106.55" cy="192.57" r="4.30" fill="#7A7F36"/>
<circle cx="115.52" cy="186.85" r="4.30" fill="#7A7F36"/>
<circle cx="122.37" cy="184.76" r="4.30" fill="#7A7F36"/>
<circle cx="132.05" cy="181.86" r="4.30" fill="#7A7F36"/>
<circle cx="141.02" cy="179.26" r="4.30" fill="#7A7F36"/>
<circle cx="147.17" cy="177.64" r="4.30" fill="#7A7F36"/>
<circle cx="153.33" cy="176.04" r="4.30" fill="#7A7F36"/>
<circle cx="165.11" cy="170.81" r="4.30" fill="#7A7F36"/>
<circle cx="172.49" cy="166.04" r="4.30" fill="#7A7F36"/>
<circle cx="189.73" cy="155.00" r="4.30" fill="#7A7F36"/>
<circle cx="196.06" cy="150.98" r="4.30" fill="#7A7F36"/>
<circle cx="202.92" cy="146.65" r="4.30" fill="#7A7F36"/>
<circle cx="210.83" cy="141.68" r="4.30" fill="#7A7F36"/>
<circle cx="220.85" cy="135.43" r="4.30" fill="#7A7F36"/>
<circle cx="232.81" cy="128.03" r="4.30" fill="#7A7F36"/>
<circle cx="239.14" cy="124.14" r="4.30" fill="#7A7F36"/>
<circle cx="247.41" cy="119.09" r="4.30" fill="#7A7F36"/>
<polyline points="94.41,202.90 100.57,198.71 107.43,194.07 116.40,188.35 123.25,186.26 132.93,183.36 141.89,180.76 148.05,179.14 154.20,177.54 165.99,172.31 173.37,167.54 190.61,156.50 196.94,152.48 203.80,148.15 211.71,143.18 221.73,136.93 233.69,129.53 240.02,125.64 248.29,120.59" fill="none" stroke="#6E7C3A" stroke-width="1.0"/>
<circle cx="94.41" cy="202.90" r="4.30" fill="#6E7C3A"/>
<circle cx="100.57" cy="198.71" r="4.30" fill="#6E7C3A"/>
<circle cx="107.43" cy="194.07" r="4.30" fill="#6E7C3A"/>
<circle cx="116.40" cy="188.35" r="4.30" fill="#6E7C3A"/>
<circle cx="123.25" cy="186.26" r="4.30" fill="#6E7C3A"/>
<circle cx="132.93" cy="183.36" r="4.30" fill="#6E7C3A"/>
<circle cx="141.89" cy="180.76" r="4.30" fill="#6E7C3A"/>
<circle cx="148.05" cy="179.14" r="4.30" fill="#6E7C3A"/>
<circle cx="154.20" cy="177.54" r="4.30" fill="#6E7C3A"/>
<circle cx="165.99" cy="172.31" r="4.30" fill="#6E7C3A"/>
<circle cx="173.37" cy="167.54" r="4.30" fill="#6E7C3A"/>
<circle cx="190.61" cy="156.50" r="4.30" fill="#6E7C3A"/>
<circle cx="196.94" cy="152.48" r="4.30" fill="#6E7C3A"/>
<circle cx="203.80" cy="148.15" r="4.30" fill="#6E7C3A"/>
<circle cx="211.71" cy="143.18" r="4.30" fill="#6E7C3A"/>
<circle cx="221.73" cy="136.93" r="4.30" fill="#6E7C3A"/>
<circle cx="233.69" cy="129.53" r="4.30" fill="#6E7C3A"/>
<circle cx="240.02" cy="125.64" r="4.30" fill="#6E7C3A"/>
<circle cx="248.29" cy="120.59" r="4.30" fill="#6E7C3A"/>
<polyline points="92.83,203.90 98.99,199.71 105.84,195.07 114.81,189.35 121.67,187.26 131.34,184.36 140.31,181.76 146.47,180.14 152.62,178.54 164.40,173.31 171.79,168.54 189.02,157.50 195.36,153.48 202.21,149.15 210.13,144.18 220.15,137.93 232.11,130.53 238.44,126.64 246.71,121.59" fill="none" stroke="#667B3C" stroke-width="1.0"/>
<circle cx="92.83" cy="203.90" r="4.30" fill="#667B3C"/>
<circle cx="98.99" cy="199.71" r="4.30" fill="#667B3C"/>
<circle cx="105.84" cy="195.07" r="4.30" fill="#667B3C"/>
<circle cx="114.81" cy="189.35" r="4.30" fill="#667B3C"/>
<circle cx="121.67" cy="187.26" r="4.30" fill="#667B3C"/>
<circle cx="131.34" cy="184.36" r="4.30" fill="#667B3C"/>
<circle cx="140.31" cy="181.76" r="4.30" fill="#667B3C"/>
<circle cx="146.47" cy="180.14" r="4.30" fill="#667B3C"/>
<circle cx="152.62" cy="178.54" r="4.30" fill="#667B3C"/>
<circle cx="164.40" cy="173.31" r="4.30" fill="#667B3C"/>
<circle cx="171.79" cy="168.54" r="4.30" fill="#667B3C"/>
<circle cx="189.02" cy="157.50" r="4.30" fill="#667B3C"/>
<circle cx="195.36" cy="153.48" r="4.30" fill="#667B3C"/>
<circle cx="202.21" cy="149.15" r="4.30" fill="#667B3C"/>
<circle cx="210.13" cy="144.18" r="4.30" fill="#667B3C"/>
<circle cx="220.15" cy="137.93" r="4.30" fill="#667B3C"/>
<circle cx="232.11" cy="130.53" r="4.30" fill="#667B3C"/>
<circle cx="238.44" cy="126.64" r="4.30" fill="#667B3C"/>
<circle cx="246.71" cy="121.59" r="4.30" fill="#667B3C"/>
<polyline points="247.90,121.50 263.00,112.00" fill="none" stroke="#D9963F" stroke-width="1.0"/>
<circle cx="263.00" cy="112.00" r="4.30" fill="#D6994A"/>
<circle cx="247.30" cy="115.90" r="4.20" fill="#EE9C6A"/>
<polyline points="93.00,211.50 101.40,199.70 135.80,178.30 204.50,138.30 234.10,122.00" fill="none" stroke="#134A6B" stroke-width="1.6"/>
<circle cx="93.00" cy="211.50" r="4.50" fill="#134A6B"/>
<circle cx="101.40" cy="199.70" r="4.50" fill="#134A6B"/>
<circle cx="135.80" cy="178.30" r="4.50" fill="#134A6B"/>
<circle cx="204.50" cy="138.30" r="4.50" fill="#134A6B"/>
<circle cx="234.10" cy="122.00" r="4.50" fill="#134A6B"/>
<polyline points="93.00,220.30 96.80,219.60 101.40,211.20 103.00,210.40 107.50,205.80 116.00,200.50 122.80,195.90 132.00,191.30 135.80,189.40 141.90,184.40 147.30,175.20 152.60,175.20 165.20,164.30 174.30,161.50 176.40,154.00 189.80,152.60 196.60,142.30 201.10,148.70 204.60,148.70 209.60,142.90 221.30,138.60 234.10,132.60 239.60,127.60 247.90,120.30 262.90,106.20 292.60,82.40" fill="none" stroke="#34498C" stroke-width="1.2"/>
<circle cx="93.00" cy="220.30" r="3.85" fill="#fff" stroke="#34498C" stroke-width="1.1"/>
<circle cx="96.80" cy="219.60" r="3.85" fill="#fff" stroke="#34498C" stroke-width="1.1"/>
<circle cx="101.40" cy="211.20" r="3.85" fill="#fff" stroke="#34498C" stroke-width="1.1"/>
<circle cx="103.00" cy="210.40" r="3.85" fill="#fff" stroke="#34498C" stroke-width="1.1"/>
<circle cx="107.50" cy="205.80" r="3.85" fill="#fff" stroke="#34498C" stroke-width="1.1"/>
<circle cx="116.00" cy="200.50" r="3.85" fill="#fff" stroke="#34498C" stroke-width="1.1"/>
<circle cx="122.80" cy="195.90" r="3.85" fill="#fff" stroke="#34498C" stroke-width="1.1"/>
<circle cx="132.00" cy="191.30" r="3.85" fill="#fff" stroke="#34498C" stroke-width="1.1"/>
<circle cx="135.80" cy="189.40" r="3.85" fill="#fff" stroke="#34498C" stroke-width="1.1"/>
<circle cx="141.90" cy="184.40" r="3.85" fill="#fff" stroke="#34498C" stroke-width="1.1"/>
<circle cx="147.30" cy="175.20" r="3.85" fill="#fff" stroke="#34498C" stroke-width="1.1"/>
<circle cx="152.60" cy="175.20" r="3.85" fill="#fff" stroke="#34498C" stroke-width="1.1"/>
<circle cx="165.20" cy="164.30" r="3.85" fill="#fff" stroke="#34498C" stroke-width="1.1"/>
<circle cx="174.30" cy="161.50" r="3.85" fill="#fff" stroke="#34498C" stroke-width="1.1"/>
<circle cx="176.40" cy="154.00" r="3.85" fill="#fff" stroke="#34498C" stroke-width="1.1"/>
<circle cx="189.80" cy="152.60" r="3.85" fill="#fff" stroke="#34498C" stroke-width="1.1"/>
<circle cx="196.60" cy="142.30" r="3.85" fill="#fff" stroke="#34498C" stroke-width="1.1"/>
<circle cx="201.10" cy="148.70" r="3.85" fill="#fff" stroke="#34498C" stroke-width="1.1"/>
<circle cx="204.60" cy="148.70" r="3.85" fill="#fff" stroke="#34498C" stroke-width="1.1"/>
<circle cx="209.60" cy="142.90" r="3.85" fill="#fff" stroke="#34498C" stroke-width="1.1"/>
<circle cx="221.30" cy="138.60" r="3.85" fill="#fff" stroke="#34498C" stroke-width="1.1"/>
<circle cx="234.10" cy="132.60" r="3.85" fill="#fff" stroke="#34498C" stroke-width="1.1"/>
<circle cx="239.60" cy="127.60" r="3.85" fill="#fff" stroke="#34498C" stroke-width="1.1"/>
<circle cx="247.90" cy="120.30" r="3.85" fill="#fff" stroke="#34498C" stroke-width="1.1"/>
<circle cx="262.90" cy="106.20" r="3.85" fill="#fff" stroke="#34498C" stroke-width="1.1"/>
<circle cx="292.60" cy="82.40" r="3.85" fill="#fff" stroke="#34498C" stroke-width="1.1"/>
<ellipse cx="160.3" cy="162.6" rx="8.2" ry="28.0" fill="none" stroke="#000" stroke-width="1.5"/>
<ellipse cx="160.3" cy="222.8" rx="8.4" ry="28.4" fill="none" stroke="#000" stroke-width="1.5"/>
<line x1="160.3" y1="138.6" x2="160.3" y2="181" stroke="#000" stroke-width="1.7" stroke-dasharray="4.7,3.3"/>
<path d="M160.30,187.10 L164.55,178.60 L160.30,180.60 L156.05,178.60 Z" fill="#000"/>
<line x1="160.3" y1="246.5" x2="160.3" y2="205" stroke="#000" stroke-width="1.7" stroke-dasharray="4.7,3.3"/>
<path d="M160.30,198.70 L156.05,207.20 L160.30,205.20 L164.55,207.20 Z" fill="#000"/>
<line x1="155.6" y1="139.4" x2="142" y2="139.4" stroke="#000" stroke-width="1.5"/>
<path d="M136.40,139.40 L145.50,143.90 L143.10,139.40 L145.50,134.90 Z" fill="#000"/>
<line x1="165.6" y1="244.1" x2="178" y2="244.1" stroke="#000" stroke-width="1.5"/>
<path d="M184.20,244.10 L175.10,239.60 L177.50,244.10 L175.10,248.60 Z" fill="#000"/>
<text x="108.3" y="145.2" font-size="20.8" font-style="italic" fill="#FF8000" stroke="#FF8000">E</text>
<text x="123.6" y="135.8" font-size="10.8" fill="#FF8000" stroke="#FF8000">1</text>
<text x="122.6" y="150.7" font-size="10.8" fill="#FF8000" stroke="#FF8000">2<tspan font-style="italic">g</tspan></text>
<text x="188.6" y="250.4" font-size="20.5" font-style="italic" fill="#9A5A14" stroke="#9A5A14">A</text>
<text x="201.6" y="256.1" font-size="10.8" fill="#9A5A14" stroke="#9A5A14">1<tspan font-style="italic">g</tspan></text>
<text x="96.6" y="40.7" font-size="15.5" stroke="#000">DCM</text>
<line x1="138.5" y1="60" x2="162.0" y2="66.8" stroke="#E8141B" stroke-width="1.7" stroke-dasharray="5,3.2"/>
<line x1="104.1" y1="58.1" x2="118.9" y2="68.3" stroke="#000" stroke-width="2.6"/>
<line x1="133.2" y1="58.1" x2="118.9" y2="68.3" stroke="#000" stroke-width="2.6"/>
<circle cx="118.9" cy="68.3" r="5.7" fill="#A97BD8" stroke="#000" stroke-width="2.0"/>
<circle cx="104.1" cy="58.1" r="4.65" fill="#FCDF90" stroke="#1C2E55" stroke-width="1.5"/>
<circle cx="133.2" cy="58.1" r="4.65" fill="#FCDF90" stroke="#1C2E55" stroke-width="1.5"/>
<line x1="167.0" y1="68.1" x2="181.8" y2="57.9" stroke="#000" stroke-width="2.6"/>
<line x1="196.2" y1="68.1" x2="181.8" y2="57.9" stroke="#000" stroke-width="2.6"/>
<circle cx="181.8" cy="57.9" r="5.7" fill="#A97BD8" stroke="#000" stroke-width="2.0"/>
<circle cx="167.0" cy="68.1" r="4.65" fill="#FCDF90" stroke="#1C2E55" stroke-width="1.5"/>
<circle cx="196.2" cy="68.1" r="4.65" fill="#FCDF90" stroke="#1C2E55" stroke-width="1.5"/>
<text x="111.0" y="93.0" font-size="14" font-style="italic" stroke="#000">C</text>
<text x="119.8" y="96.1" font-size="11" stroke="#000">w</text>
<text x="137.6" y="93.0" font-size="14" font-style="italic" fill="#E8141B" stroke="#E8141B">C</text>
<text x="147.3" y="96.1" font-size="11" fill="#E8141B" stroke="#E8141B">b</text>
<text x="171.8" y="92.6" font-size="13.6" fill="#B07FDC" stroke="#B07FDC">Mo</text>
<text x="197.6" y="92.6" font-size="13.6" fill="#FFC000" stroke="#FFC000">S</text>
<path d="M213.1,65 L213.1,72.2 L220,72.2" fill="none" stroke="#000" stroke-width="1.6"/>
<path d="M213.10,59.30 L210.20,66.80 L213.10,64.60 L216.00,66.80 Z" fill="#000"/>
<path d="M226.30,72.20 L218.80,69.30 L221.00,72.20 L218.80,75.10 Z" fill="#000"/>
<text x="209.0" y="56.0" font-size="13.5" font-style="italic" stroke="#000">a</text>
<text x="227.0" y="67.6" font-size="13.5" font-style="italic" stroke="#000">c</text>
<defs>
<radialGradient id="gr" cx="0.38" cy="0.32" r="0.7">
<stop offset="0" stop-color="#FFFFFF"/><stop offset="0.18" stop-color="#F5A0A3"/><stop offset="0.45" stop-color="#E8383E"/><stop offset="1" stop-color="#D62A30"/>
</radialGradient>
<radialGradient id="gb" cx="0.38" cy="0.32" r="0.7">
<stop offset="0" stop-color="#FFFFFF"/><stop offset="0.18" stop-color="#8080FF"/><stop offset="0.45" stop-color="#1010F0"/><stop offset="1" stop-color="#0A0AD0"/>
</radialGradient>
</defs>
<polyline points="97.40,418.32 117.50,487.21 137.70,498.69 158.00,507.54 178.20,511.13 198.30,498.21 218.30,510.89 238.50,510.89 303.60,490.08" fill="none" stroke="#EE3A40" stroke-width="1.1" stroke-dasharray="4.5,3"/>
<line x1="97.40" y1="415.82" x2="97.40" y2="420.82" stroke="#EE4046" stroke-width="1.1"/>
<line x1="90.70" y1="415.82" x2="104.10" y2="415.82" stroke="#EE4046" stroke-width="1.1"/>
<line x1="90.70" y1="420.82" x2="104.10" y2="420.82" stroke="#EE4046" stroke-width="1.1"/>
<line x1="117.50" y1="484.34" x2="117.50" y2="490.08" stroke="#EE4046" stroke-width="1.1"/>
<line x1="110.80" y1="484.34" x2="124.20" y2="484.34" stroke="#EE4046" stroke-width="1.1"/>
<line x1="110.80" y1="490.08" x2="124.20" y2="490.08" stroke="#EE4046" stroke-width="1.1"/>
<line x1="137.70" y1="496.19" x2="137.70" y2="501.19" stroke="#EE4046" stroke-width="1.1"/>
<line x1="131.00" y1="496.19" x2="144.40" y2="496.19" stroke="#EE4046" stroke-width="1.1"/>
<line x1="131.00" y1="501.19" x2="144.40" y2="501.19" stroke="#EE4046" stroke-width="1.1"/>
<line x1="158.00" y1="505.04" x2="158.00" y2="510.04" stroke="#EE4046" stroke-width="1.1"/>
<line x1="151.30" y1="505.04" x2="164.70" y2="505.04" stroke="#EE4046" stroke-width="1.1"/>
<line x1="151.30" y1="510.04" x2="164.70" y2="510.04" stroke="#EE4046" stroke-width="1.1"/>
<line x1="178.20" y1="508.63" x2="178.20" y2="513.63" stroke="#EE4046" stroke-width="1.1"/>
<line x1="171.50" y1="508.63" x2="184.90" y2="508.63" stroke="#EE4046" stroke-width="1.1"/>
<line x1="171.50" y1="513.63" x2="184.90" y2="513.63" stroke="#EE4046" stroke-width="1.1"/>
<line x1="198.30" y1="490.80" x2="198.30" y2="505.62" stroke="#EE4046" stroke-width="1.1"/>
<line x1="191.60" y1="490.80" x2="205.00" y2="490.80" stroke="#EE4046" stroke-width="1.1"/>
<line x1="191.60" y1="505.62" x2="205.00" y2="505.62" stroke="#EE4046" stroke-width="1.1"/>
<line x1="218.30" y1="505.63" x2="218.30" y2="516.15" stroke="#EE4046" stroke-width="1.1"/>
<line x1="211.60" y1="505.63" x2="225.00" y2="505.63" stroke="#EE4046" stroke-width="1.1"/>
<line x1="211.60" y1="516.15" x2="225.00" y2="516.15" stroke="#EE4046" stroke-width="1.1"/>
<line x1="238.50" y1="505.15" x2="238.50" y2="516.63" stroke="#EE4046" stroke-width="1.1"/>
<line x1="231.80" y1="505.15" x2="245.20" y2="505.15" stroke="#EE4046" stroke-width="1.1"/>
<line x1="231.80" y1="516.63" x2="245.20" y2="516.63" stroke="#EE4046" stroke-width="1.1"/>
<line x1="303.60" y1="485.53" x2="303.60" y2="494.62" stroke="#EE4046" stroke-width="1.1"/>
<line x1="296.90" y1="485.53" x2="310.30" y2="485.53" stroke="#EE4046" stroke-width="1.1"/>
<line x1="296.90" y1="494.62" x2="310.30" y2="494.62" stroke="#EE4046" stroke-width="1.1"/>
<circle cx="97.40" cy="418.32" r="4.6" fill="url(#gr)"/>
<circle cx="117.50" cy="487.21" r="4.6" fill="url(#gr)"/>
<circle cx="137.70" cy="498.69" r="4.6" fill="url(#gr)"/>
<circle cx="158.00" cy="507.54" r="4.6" fill="url(#gr)"/>
<circle cx="178.20" cy="511.13" r="4.6" fill="url(#gr)"/>
<circle cx="198.30" cy="498.21" r="4.6" fill="url(#gr)"/>
<circle cx="218.30" cy="510.89" r="4.6" fill="url(#gr)"/>
<circle cx="238.50" cy="510.89" r="4.6" fill="url(#gr)"/>
<circle cx="303.60" cy="490.08" r="4.6" fill="url(#gr)"/>
<polyline points="97.60,532.66 117.60,501.08 137.60,487.21 157.90,480.51 178.00,476.44 198.30,466.40 218.30,465.44 238.50,463.53 303.60,466.88" fill="none" stroke="#1A1AF0" stroke-width="1.1" stroke-dasharray="4.5,3"/>
<line x1="97.60" y1="530.16" x2="97.60" y2="535.16" stroke="#2020F0" stroke-width="1.1"/>
<line x1="90.90" y1="530.16" x2="104.30" y2="530.16" stroke="#2020F0" stroke-width="1.1"/>
<line x1="90.90" y1="535.16" x2="104.30" y2="535.16" stroke="#2020F0" stroke-width="1.1"/>
<line x1="117.60" y1="498.58" x2="117.60" y2="503.58" stroke="#2020F0" stroke-width="1.1"/>
<line x1="110.90" y1="498.58" x2="124.30" y2="498.58" stroke="#2020F0" stroke-width="1.1"/>
<line x1="110.90" y1="503.58" x2="124.30" y2="503.58" stroke="#2020F0" stroke-width="1.1"/>
<line x1="137.60" y1="484.71" x2="137.60" y2="489.71" stroke="#2020F0" stroke-width="1.1"/>
<line x1="130.90" y1="484.71" x2="144.30" y2="484.71" stroke="#2020F0" stroke-width="1.1"/>
<line x1="130.90" y1="489.71" x2="144.30" y2="489.71" stroke="#2020F0" stroke-width="1.1"/>
<line x1="157.90" y1="478.01" x2="157.90" y2="483.01" stroke="#2020F0" stroke-width="1.1"/>
<line x1="151.20" y1="478.01" x2="164.60" y2="478.01" stroke="#2020F0" stroke-width="1.1"/>
<line x1="151.20" y1="483.01" x2="164.60" y2="483.01" stroke="#2020F0" stroke-width="1.1"/>
<line x1="178.00" y1="473.94" x2="178.00" y2="478.94" stroke="#2020F0" stroke-width="1.1"/>
<line x1="171.30" y1="473.94" x2="184.70" y2="473.94" stroke="#2020F0" stroke-width="1.1"/>
<line x1="171.30" y1="478.94" x2="184.70" y2="478.94" stroke="#2020F0" stroke-width="1.1"/>
<line x1="198.30" y1="463.53" x2="198.30" y2="469.27" stroke="#2020F0" stroke-width="1.1"/>
<line x1="191.60" y1="463.53" x2="205.00" y2="463.53" stroke="#2020F0" stroke-width="1.1"/>
<line x1="191.60" y1="469.27" x2="205.00" y2="469.27" stroke="#2020F0" stroke-width="1.1"/>
<line x1="218.30" y1="462.57" x2="218.30" y2="468.31" stroke="#2020F0" stroke-width="1.1"/>
<line x1="211.60" y1="462.57" x2="225.00" y2="462.57" stroke="#2020F0" stroke-width="1.1"/>
<line x1="211.60" y1="468.31" x2="225.00" y2="468.31" stroke="#2020F0" stroke-width="1.1"/>
<line x1="238.50" y1="460.18" x2="238.50" y2="466.87" stroke="#2020F0" stroke-width="1.1"/>
<line x1="231.80" y1="460.18" x2="245.20" y2="460.18" stroke="#2020F0" stroke-width="1.1"/>
<line x1="231.80" y1="466.87" x2="245.20" y2="466.87" stroke="#2020F0" stroke-width="1.1"/>
<line x1="303.60" y1="464.38" x2="303.60" y2="469.38" stroke="#2020F0" stroke-width="1.1"/>
<line x1="296.90" y1="464.38" x2="310.30" y2="464.38" stroke="#2020F0" stroke-width="1.1"/>
<line x1="296.90" y1="469.38" x2="310.30" y2="469.38" stroke="#2020F0" stroke-width="1.1"/>
<circle cx="97.60" cy="532.66" r="4.6" fill="url(#gb)"/>
<circle cx="117.60" cy="501.08" r="4.6" fill="url(#gb)"/>
<circle cx="137.60" cy="487.21" r="4.6" fill="url(#gb)"/>
<circle cx="157.90" cy="480.51" r="4.6" fill="url(#gb)"/>
<circle cx="178.00" cy="476.44" r="4.6" fill="url(#gb)"/>
<circle cx="198.30" cy="466.40" r="4.6" fill="url(#gb)"/>
<circle cx="218.30" cy="465.44" r="4.6" fill="url(#gb)"/>
<circle cx="238.50" cy="463.53" r="4.6" fill="url(#gb)"/>
<circle cx="303.60" cy="466.88" r="4.6" fill="url(#gb)"/>
<text x="214.6" y="434.6" font-size="15.3" font-style="italic" fill="#1A1AF5" stroke="#1A1AF5">C</text>
<text x="225.9" y="428.6" font-size="9" fill="#1A1AF5" stroke="#1A1AF5">s</text>
<text x="224.2" y="438.8" font-size="10" fill="#1A1AF5" stroke="#1A1AF5">b</text>
<text x="215.7" y="544.8" font-size="15.3" font-style="italic" fill="#FF2626" stroke="#FF2626">C</text>
<text x="227.3" y="538.6" font-size="9" fill="#FF2626" stroke="#FF2626">s</text>
<text x="226.9" y="548.9" font-size="9.5" fill="#FF2626" stroke="#FF2626">w</text>
</svg>
</body></html>
